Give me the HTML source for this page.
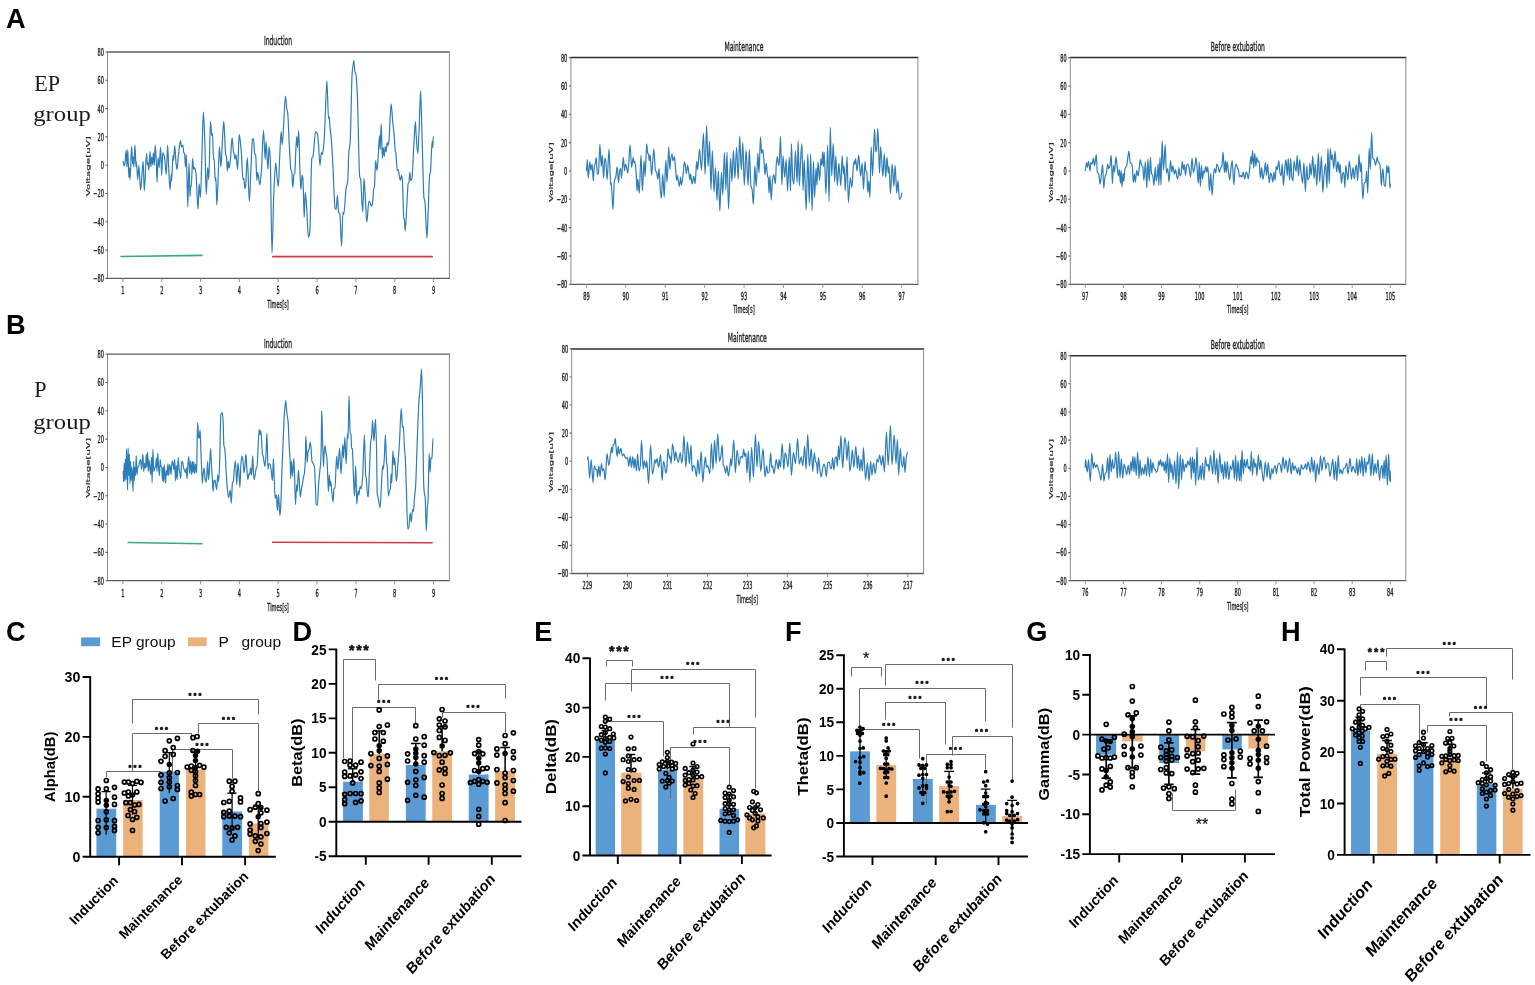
<!DOCTYPE html>
<html lang="en">
<head>
<meta charset="utf-8">
<title>EEG waveforms and spectral power: EP group vs P group</title>
<style>
html,body{margin:0;padding:0;background:#fff;}
body{width:1535px;height:985px;overflow:hidden;font-family:"Liberation Sans",Arial,sans-serif;}
svg{display:block;}
text{white-space:pre;}
.mt{font:10.4px "DejaVu Sans","Liberation Sans",sans-serif;fill:#262626;stroke:#262626;stroke-width:0.42px;}
.ti{font-size:12.5px;}
.vl{font-size:10.25px;stroke-width:0.3px;}
.tk{font:bold 14.2px "Liberation Sans",Arial,sans-serif;fill:#000;}
.xl{font-size:13.8px;}
.yl{font:bold 14.3px "Liberation Sans",Arial,sans-serif;fill:#000;}
.st{font-family:"Liberation Sans",Arial,sans-serif;fill:#111;stroke:#111;stroke-width:0.55px;stroke-linejoin:round;text-anchor:middle;}
.sr{stroke-width:0.25px;}
.lg{font:15.5px "Liberation Sans",Arial,sans-serif;fill:#111;}
</style>
</head>
<body>
<svg width="1535" height="985" viewBox="0 0 1535 985">
<rect x="0" y="0" width="1535" height="985" fill="#fff"/>
<text transform="translate(5.95,27.75)" font-family="'Liberation Sans', Arial, sans-serif" font-size="27.2" font-weight="bold" text-anchor="start" fill="#000" >A</text>
<text transform="translate(6.07,334.45)" font-family="'Liberation Sans', Arial, sans-serif" font-size="27.2" font-weight="bold" text-anchor="start" fill="#000" >B</text>
<text transform="translate(6.00,641.36)" font-family="'Liberation Sans', Arial, sans-serif" font-size="27.2" font-weight="bold" text-anchor="start" fill="#000" >C</text>
<text transform="translate(292.47,641.45)" font-family="'Liberation Sans', Arial, sans-serif" font-size="27.2" font-weight="bold" text-anchor="start" fill="#000" >D</text>
<text transform="translate(534.24,640.65)" font-family="'Liberation Sans', Arial, sans-serif" font-size="27.2" font-weight="bold" text-anchor="start" fill="#000" >E</text>
<text transform="translate(785.00,640.55)" font-family="'Liberation Sans', Arial, sans-serif" font-size="27.2" font-weight="bold" text-anchor="start" fill="#000" >F</text>
<text transform="translate(1026.14,640.63)" font-family="'Liberation Sans', Arial, sans-serif" font-size="27.2" font-weight="bold" text-anchor="start" fill="#000" >G</text>
<text transform="translate(1281.06,640.65)" font-family="'Liberation Sans', Arial, sans-serif" font-size="27.2" font-weight="bold" text-anchor="start" fill="#000" >H</text>
<text transform="translate(34.20,91.30) scale(0.96,1.0)" font-family="'Liberation Serif', 'Times New Roman', serif" font-size="23" font-weight="normal" text-anchor="start" fill="#1a1a1a" >EP</text>
<text transform="translate(33.30,121.00) scale(1.12,1.0)" font-family="'Liberation Serif', 'Times New Roman', serif" font-size="22" font-weight="normal" text-anchor="start" fill="#1a1a1a" >group</text>
<text transform="translate(34.20,397.10) scale(0.96,1.0)" font-family="'Liberation Serif', 'Times New Roman', serif" font-size="23" font-weight="normal" text-anchor="start" fill="#1a1a1a" >P</text>
<text transform="translate(33.30,429.00) scale(1.12,1.0)" font-family="'Liberation Serif', 'Times New Roman', serif" font-size="22" font-weight="normal" text-anchor="start" fill="#1a1a1a" >group</text>
<g id="trace-EP-induction">
<path d="M107.00,52.00H449.90M107.00,278.40H449.90" fill="none" stroke="#5e5e5e" stroke-width="1.3"/>
<path d="M107.50,52.00V278.40M449.40,52.00V278.40" fill="none" stroke="#8a8a8a" stroke-width="1"/>
<path d="M105.50,52.00H107.50M105.50,80.30H107.50M105.50,108.60H107.50M105.50,136.90H107.50M105.50,165.20H107.50M105.50,193.50H107.50M105.50,221.80H107.50M105.50,250.10H107.50M105.50,278.40H107.50" fill="none" stroke="#5e5e5e" stroke-width="1.1"/>
<path d="M122.90,278.40V282.00M161.73,278.40V282.00M200.55,278.40V282.00M239.38,278.40V282.00M278.20,278.40V282.00M317.02,278.40V282.00M355.85,278.40V282.00M394.68,278.40V282.00M433.50,278.40V282.00" fill="none" stroke="#8a8a8a" stroke-width="0.9"/>
<g class="mt" text-anchor="end">
<text transform="translate(103.90,55.90) scale(0.485,1)">80</text>
<text transform="translate(103.90,84.20) scale(0.485,1)">60</text>
<text transform="translate(103.90,112.50) scale(0.485,1)">40</text>
<text transform="translate(103.90,140.80) scale(0.485,1)">20</text>
<text transform="translate(103.90,169.10) scale(0.485,1)">0</text>
<text transform="translate(103.90,197.40) scale(0.485,1)">−20</text>
<text transform="translate(103.90,225.70) scale(0.485,1)">−40</text>
<text transform="translate(103.90,254.00) scale(0.485,1)">−60</text>
<text transform="translate(103.90,282.30) scale(0.485,1)">−80</text>
</g>
<g class="mt" text-anchor="middle">
<text transform="translate(122.90,293.70) scale(0.485,1)">1</text>
<text transform="translate(161.73,293.70) scale(0.485,1)">2</text>
<text transform="translate(200.55,293.70) scale(0.485,1)">3</text>
<text transform="translate(239.38,293.70) scale(0.485,1)">4</text>
<text transform="translate(278.20,293.70) scale(0.485,1)">5</text>
<text transform="translate(317.02,293.70) scale(0.485,1)">6</text>
<text transform="translate(355.85,293.70) scale(0.485,1)">7</text>
<text transform="translate(394.68,293.70) scale(0.485,1)">8</text>
<text transform="translate(433.50,293.70) scale(0.485,1)">9</text>
<text transform="translate(278.00,307.60) scale(0.485,1)">Times[s]</text>
<text class="vl" transform="translate(89.50,166.30) scale(0.47,1) rotate(-90)">Voltage[uV]</text>
<text class="ti" transform="translate(278.00,45.40) scale(0.485,1)">Induction</text>
</g>
<line x1="121.00" y1="256.50" x2="202.00" y2="255.40" stroke="#3aa888" stroke-width="1.6" stroke-linecap="round"/>
<line x1="272.60" y1="256.60" x2="432.20" y2="256.60" stroke="#cf3a4e" stroke-width="1.6" stroke-linecap="round"/>
<path d="M123.1,161.4C123.4,161.4 123.7,166.1 124.0,166.1C124.3,166.1 124.6,164.8 124.9,163.2C125.3,161.5 125.7,150.0 126.1,150.0C126.4,150.0 126.7,166.8 126.9,166.8C127.2,166.8 127.5,149.5 127.8,149.5C128.1,149.5 128.5,177.5 128.8,177.5C129.0,177.5 129.3,167.5 129.5,167.5C129.7,167.5 129.9,179.6 130.1,179.6C130.6,179.6 131.1,146.2 131.6,146.2C132.0,146.2 132.3,164.0 132.6,164.0C132.8,164.0 133.0,156.9 133.2,156.9C133.4,156.9 133.7,166.8 133.9,166.8C134.2,166.8 134.6,144.8 134.9,144.8C135.3,144.8 135.7,166.8 136.0,166.8C136.1,166.8 136.2,161.4 136.3,161.4C136.8,161.4 137.3,179.6 137.7,179.6C138.1,179.6 138.5,165.7 138.9,165.7C139.4,165.7 140.0,190.3 140.6,190.3C141.1,190.3 141.5,179.2 142.0,173.9C142.4,169.7 142.8,161.4 143.1,161.4C143.5,161.4 143.9,191.0 144.3,191.0C145.0,191.0 145.8,153.3 146.6,153.3C146.8,153.3 147.1,164.7 147.4,164.7C147.6,164.7 147.8,162.5 148.0,162.5C148.3,162.5 148.5,170.4 148.8,170.4C149.2,170.4 149.6,151.4 150.0,151.4C150.2,151.4 150.5,166.8 150.8,166.8C151.1,166.8 151.4,156.9 151.7,156.9C151.9,156.9 152.2,164.7 152.5,164.7C152.8,164.7 153.1,152.9 153.4,152.9C153.7,152.9 153.9,165.4 154.2,165.4C154.6,165.4 154.9,145.2 155.2,145.2C155.6,145.2 155.9,153.5 156.2,159.7C156.5,165.0 156.8,182.1 157.1,182.1C157.4,182.1 157.7,157.6 158.1,157.6C158.4,157.6 158.7,167.5 159.1,167.5C159.6,167.5 160.1,147.2 160.6,147.2C161.0,147.2 161.3,175.3 161.6,175.3C162.0,175.3 162.4,152.6 162.8,152.6C163.0,152.6 163.3,153.4 163.6,154.0C163.9,154.6 164.2,155.5 164.5,156.9C165.1,159.9 165.7,174.6 166.3,174.6C166.7,174.6 167.2,145.2 167.6,145.2C168.0,145.2 168.3,161.3 168.7,168.2C169.1,176.0 169.6,189.8 170.0,189.8C170.4,189.8 170.9,173.9 171.3,173.9C171.4,173.9 171.5,181.0 171.6,181.0C172.0,181.0 172.5,155.4 173.0,155.4C173.2,155.4 173.4,160.4 173.6,160.4C173.9,160.4 174.3,145.5 174.7,145.5C175.2,145.5 175.6,159.8 176.1,164.0C176.4,166.4 176.7,169.6 177.0,169.6C177.4,169.6 177.9,159.3 178.4,155.4C179.1,149.6 179.8,140.5 180.5,140.5C180.8,140.5 181.2,146.9 181.5,146.9C181.9,146.9 182.4,145.2 182.8,145.2C183.1,145.2 183.5,151.7 183.8,152.6C184.1,153.4 184.4,153.2 184.6,154.0C184.9,154.9 185.2,166.8 185.5,166.8C185.8,166.8 186.1,154.7 186.3,154.7C186.8,154.7 187.3,206.6 187.8,206.6C188.2,206.6 188.6,163.2 189.0,163.2C189.4,163.2 189.7,196.6 190.0,196.6C190.3,196.6 190.5,185.3 190.8,185.3C190.9,185.3 191.1,186.7 191.3,186.7C191.7,186.7 192.2,158.3 192.6,158.3C192.9,158.3 193.3,169.6 193.6,169.6C193.9,169.6 194.3,167.5 194.6,167.5C195.1,167.5 195.5,170.5 196.0,173.9C196.7,178.6 197.3,209.4 198.0,209.4C198.4,209.4 198.8,183.9 199.1,183.9C199.6,183.9 200.0,197.4 200.4,197.4C200.9,197.4 201.5,167.3 202.0,152.6C202.5,139.2 202.9,112.1 203.4,112.1C203.9,112.1 204.4,128.8 204.8,141.2C205.3,153.6 205.8,194.1 206.2,194.1C206.7,194.1 207.2,167.5 207.7,167.5C208.0,167.5 208.4,179.6 208.8,179.6C209.4,179.6 209.9,121.3 210.5,121.3C210.9,121.3 211.3,135.5 211.6,135.5C211.9,135.5 212.2,133.4 212.5,133.4C212.8,133.4 213.2,159.7 213.5,159.7C213.7,159.7 213.9,158.3 214.1,158.3C214.5,158.3 214.9,181.0 215.3,181.0C215.5,181.0 215.7,177.5 215.9,177.5C216.2,177.5 216.5,204.9 216.8,204.9C217.1,204.9 217.5,192.9 217.9,185.3C218.4,174.8 218.9,146.9 219.5,146.9C219.9,146.9 220.4,166.8 220.9,166.8C221.1,166.8 221.4,160.4 221.6,156.9C222.3,146.1 223.0,121.3 223.7,121.3C224.0,121.3 224.2,126.9 224.4,130.6C224.9,137.1 225.3,153.2 225.7,154.7C226.0,155.6 226.2,155.3 226.4,156.1C226.7,157.2 227.0,171.1 227.3,171.1C227.6,171.1 227.9,161.1 228.3,161.1C228.6,161.1 228.8,168.2 229.1,168.2C229.5,168.2 230.0,163.4 230.4,159.7C231.0,154.7 231.5,137.7 232.1,137.7C232.5,137.7 233.0,148.7 233.4,151.2C233.6,152.5 233.9,152.9 234.1,154.0C234.4,155.4 234.7,159.5 235.0,159.5C235.3,159.5 235.7,154.5 236.0,154.5C236.5,154.5 237.1,169.5 237.6,169.5C238.1,169.5 238.7,134.6 239.2,134.6C239.5,134.6 239.8,138.1 240.2,140.6C240.6,143.7 241.0,148.4 241.4,153.5C241.9,160.4 242.4,179.4 243.0,179.4C243.2,179.4 243.5,178.4 243.8,178.4C244.1,178.4 244.6,188.4 244.9,188.4C245.1,188.4 245.3,188.0 245.5,187.4C246.1,185.6 246.7,157.5 247.3,157.5C248.0,157.5 248.7,201.3 249.3,201.3C249.9,201.3 250.4,179.6 250.9,169.5C251.4,159.3 252.0,140.6 252.5,139.6C252.8,139.0 253.2,138.6 253.5,138.6C253.9,138.6 254.3,152.2 254.7,153.5C255.0,154.7 255.4,154.3 255.7,155.5C256.1,157.0 256.5,180.4 256.9,180.4C257.1,180.4 257.4,172.4 257.7,172.4C258.4,172.4 259.1,185.0 259.9,185.0C260.4,185.0 260.9,176.3 261.5,169.5C262.1,160.9 262.8,130.3 263.5,130.3C264.0,130.3 264.7,159.5 265.2,159.5C265.5,159.5 265.8,141.6 266.0,141.6C266.7,141.6 267.4,169.5 268.0,169.5C268.4,169.5 268.7,146.6 269.0,146.6C269.4,146.6 269.8,151.4 270.2,157.5C270.8,166.8 271.4,253.0 272.0,253.0C272.6,253.0 273.2,205.7 273.8,193.3C274.5,179.6 275.1,162.9 275.8,162.9C276.1,162.9 276.5,171.4 276.8,174.4C277.3,179.2 277.8,186.4 278.4,186.4C278.8,186.4 279.2,167.3 279.6,159.5C280.1,149.2 280.6,131.7 281.2,131.7C281.5,131.7 281.8,144.6 282.2,144.6C283.3,144.6 284.4,96.2 285.5,96.2C285.9,96.2 286.3,106.5 286.7,108.8C287.1,110.7 287.4,110.6 287.7,112.8C288.2,115.8 288.7,133.4 289.1,141.6C289.7,152.1 290.3,166.9 290.9,169.5C291.2,170.6 291.4,170.3 291.7,171.5C292.1,173.1 292.5,187.4 292.9,187.4C293.2,187.4 293.6,175.2 293.9,174.4C294.2,173.8 294.4,174.1 294.7,173.4C295.3,171.9 296.0,136.6 296.7,136.6C296.9,136.6 297.2,147.6 297.5,147.6C297.9,147.6 298.3,130.7 298.7,130.7C299.1,130.7 299.5,159.7 299.9,169.5C300.2,177.6 300.5,189.4 300.9,189.4C301.3,189.4 301.7,175.0 302.1,175.0C302.3,175.0 302.6,176.0 302.8,177.4C303.3,179.9 303.8,217.2 304.2,217.2C304.6,217.2 304.9,192.3 305.2,192.3C305.6,192.3 306.0,198.6 306.4,203.3C307.1,211.1 307.8,237.1 308.4,237.1C308.9,237.1 309.4,235.1 309.8,232.1C310.5,227.9 311.1,160.6 311.8,158.5C312.2,157.3 312.6,157.6 313.0,156.5C313.8,154.1 314.7,131.7 315.6,131.7C315.9,131.7 316.2,132.2 316.6,132.7C316.9,133.1 317.2,133.5 317.6,134.6C317.9,135.8 318.2,141.5 318.6,145.6C319.0,151.3 319.5,165.5 320.0,165.5C320.4,165.5 320.9,152.5 321.4,152.5C321.6,152.5 321.9,154.5 322.1,154.5C322.5,154.5 322.8,152.5 323.1,150.6C323.6,147.8 324.1,140.9 324.5,133.6C325.3,121.3 326.1,80.9 326.9,80.9C327.4,80.9 328.0,118.7 328.5,118.7C328.8,118.7 329.0,116.7 329.3,116.7C329.5,116.7 329.7,123.3 329.9,125.7C330.4,132.0 331.0,134.9 331.5,141.6C332.0,148.3 332.6,159.8 333.1,169.5C333.7,181.6 334.4,207.1 335.1,208.3C335.4,208.9 335.8,209.3 336.2,209.3C336.6,209.3 337.0,195.3 337.4,195.3C337.8,195.3 338.2,211.4 338.6,212.2C339.0,213.1 339.4,212.8 339.8,213.6C340.4,214.9 341.0,246.1 341.6,246.1C342.0,246.1 342.5,212.2 343.0,212.2C343.2,212.2 343.5,214.2 343.8,214.2C344.5,214.2 345.4,193.3 346.1,188.4C346.7,185.1 347.2,185.3 347.7,181.4C348.1,178.5 348.5,156.1 348.9,151.6C349.3,147.0 349.7,147.5 350.1,142.6C350.8,134.5 351.5,82.0 352.1,74.0C352.7,66.7 353.3,60.6 353.9,60.6C354.2,60.6 354.6,71.2 354.9,72.0C355.2,72.6 355.4,72.4 355.7,73.0C356.2,74.2 356.8,83.9 357.3,93.9C358.1,108.8 358.9,172.1 359.7,176.4C360.0,178.2 360.3,177.7 360.7,179.4C361.3,182.7 362.0,212.2 362.7,212.2C363.1,212.2 363.6,178.4 364.0,178.4C364.5,178.4 365.0,192.1 365.4,199.3C365.9,206.5 366.4,222.2 366.8,222.2C367.5,222.2 368.2,201.3 368.8,201.3C369.2,201.3 369.6,201.8 370.0,202.3C370.5,202.9 371.0,206.3 371.4,206.3C371.7,206.3 372.1,205.4 372.4,204.3C372.9,202.7 373.3,189.7 373.8,188.4C374.0,187.8 374.2,188.0 374.4,187.4C374.8,186.1 375.2,160.5 375.6,160.5C376.0,160.5 376.5,170.5 377.0,170.5C377.3,170.5 377.6,163.7 378.0,159.5C378.5,152.8 379.0,135.6 379.6,135.6C379.8,135.6 380.0,149.6 380.2,149.6C380.5,149.6 380.8,123.7 381.2,123.7C381.6,123.7 382.0,158.5 382.4,158.5C382.6,158.5 382.9,147.6 383.1,147.6C383.5,147.6 383.9,156.5 384.3,156.5C384.6,156.5 384.9,146.6 385.1,146.6C385.5,146.6 385.8,151.6 386.1,151.6C386.5,151.6 386.8,142.6 387.1,142.6C387.4,142.6 387.7,145.6 387.9,145.6C388.3,145.6 388.6,143.5 388.9,141.2C389.6,136.2 390.4,103.8 391.1,103.8C391.6,103.8 392.2,116.4 392.7,121.7C393.2,126.4 393.6,129.5 394.1,134.6C394.5,139.1 394.9,149.4 395.3,151.6C395.5,152.6 395.7,152.5 395.9,153.5C396.3,155.9 396.8,170.5 397.3,170.5C397.6,170.5 397.9,169.5 398.3,169.5C398.5,169.5 398.8,173.0 399.1,174.4C399.5,176.6 399.9,180.4 400.3,180.4C400.7,180.4 401.1,175.4 401.5,175.4C401.7,175.4 402.0,177.2 402.3,179.4C402.8,183.8 403.3,215.1 403.8,218.2C404.0,219.4 404.2,219.1 404.4,220.2C404.7,221.6 405.0,231.1 405.2,231.1C405.7,231.1 406.2,216.6 406.6,209.3C407.2,200.9 407.7,184.6 408.2,183.4C408.5,182.8 408.8,183.0 409.0,182.4C409.3,181.8 409.5,172.4 409.8,172.4C410.1,172.4 410.5,180.4 410.8,180.4C411.1,180.4 411.5,180.0 411.8,179.4C412.5,178.2 413.1,156.1 413.8,145.6C414.3,137.2 414.9,121.7 415.4,121.7C415.6,121.7 415.9,132.0 416.2,135.6C416.7,142.8 417.2,153.5 417.8,153.5C418.2,153.5 418.7,137.7 419.2,127.7C419.6,117.7 420.1,90.9 420.6,90.9C421.0,90.9 421.5,117.4 421.9,131.7C422.6,152.0 423.3,192.6 423.9,197.3C424.3,199.7 424.6,199.1 424.9,201.3C425.6,205.6 426.3,238.1 426.9,238.1C427.3,238.1 427.7,222.1 428.1,213.2C428.6,201.4 429.2,177.9 429.7,174.4C430.0,172.7 430.2,173.1 430.5,171.5C431.0,168.2 431.6,141.6 432.1,141.6C432.3,141.6 432.5,147.6 432.7,147.6C432.9,147.6 433.1,136.6 433.3,136.6" fill="none" stroke="#2d7db7" stroke-width="1.2" stroke-linejoin="round" stroke-linecap="round"/>
</g>
<g id="trace-EP-maintenance">
<path d="M570.40,57.60H918.40" fill="none" stroke="#2e2e2e" stroke-width="1.5"/>
<path d="M570.40,284.30H918.40" fill="none" stroke="#5e5e5e" stroke-width="1.3"/>
<path d="M570.90,57.60V284.30M917.90,57.60V284.30" fill="none" stroke="#8a8a8a" stroke-width="1"/>
<path d="M568.90,57.60H570.90M568.90,85.94H570.90M568.90,114.28H570.90M568.90,142.61H570.90M568.90,170.95H570.90M568.90,199.29H570.90M568.90,227.62H570.90M568.90,255.96H570.90M568.90,284.30H570.90" fill="none" stroke="#5e5e5e" stroke-width="1.1"/>
<path d="M586.40,284.30V287.90M625.81,284.30V287.90M665.23,284.30V287.90M704.64,284.30V287.90M744.05,284.30V287.90M783.46,284.30V287.90M822.88,284.30V287.90M862.29,284.30V287.90M901.70,284.30V287.90" fill="none" stroke="#8a8a8a" stroke-width="0.9"/>
<g class="mt" text-anchor="end">
<text transform="translate(567.30,61.50) scale(0.485,1)">80</text>
<text transform="translate(567.30,89.84) scale(0.485,1)">60</text>
<text transform="translate(567.30,118.18) scale(0.485,1)">40</text>
<text transform="translate(567.30,146.51) scale(0.485,1)">20</text>
<text transform="translate(567.30,174.85) scale(0.485,1)">0</text>
<text transform="translate(567.30,203.19) scale(0.485,1)">−20</text>
<text transform="translate(567.30,231.53) scale(0.485,1)">−40</text>
<text transform="translate(567.30,259.86) scale(0.485,1)">−60</text>
<text transform="translate(567.30,288.20) scale(0.485,1)">−80</text>
</g>
<g class="mt" text-anchor="middle">
<text transform="translate(586.40,299.70) scale(0.485,1)">89</text>
<text transform="translate(625.81,299.70) scale(0.485,1)">90</text>
<text transform="translate(665.23,299.70) scale(0.485,1)">91</text>
<text transform="translate(704.64,299.70) scale(0.485,1)">92</text>
<text transform="translate(744.05,299.70) scale(0.485,1)">93</text>
<text transform="translate(783.46,299.70) scale(0.485,1)">94</text>
<text transform="translate(822.88,299.70) scale(0.485,1)">95</text>
<text transform="translate(862.29,299.70) scale(0.485,1)">96</text>
<text transform="translate(901.70,299.70) scale(0.485,1)">97</text>
<text transform="translate(743.90,313.40) scale(0.485,1)">Times[s]</text>
<text class="vl" transform="translate(553.00,172.10) scale(0.47,1) rotate(-90)">Voltage[uV]</text>
<text class="ti" transform="translate(743.90,51.10) scale(0.485,1)">Maintenance</text>
</g>
<path d="M586.4,170.8C586.7,170.8 587.0,159.7 587.3,159.7C587.6,159.7 587.9,178.1 588.2,178.1C588.7,178.1 589.3,161.9 589.8,161.9C590.2,161.9 590.6,170.3 590.9,170.3C591.3,170.3 591.7,164.1 592.1,164.1C592.5,164.1 592.9,180.9 593.3,180.9C593.6,180.9 594.0,167.8 594.3,166.4C594.5,165.4 594.7,165.4 595.0,164.7C595.4,163.2 595.9,157.7 596.3,157.7C596.6,157.7 597.0,174.2 597.3,174.2C597.7,174.2 598.1,173.8 598.5,173.1C599.0,172.3 599.4,144.3 599.9,144.3C600.3,144.3 600.8,166.4 601.2,166.4C601.6,166.4 602.0,155.2 602.3,155.2C602.7,155.2 603.2,178.1 603.6,178.1C604.0,178.1 604.4,158.0 604.8,158.0C605.2,158.0 605.5,159.8 605.9,161.9C606.3,164.2 606.7,179.8 607.1,179.8C607.8,179.8 608.4,149.1 609.0,149.1C609.6,149.1 610.2,185.4 610.7,185.4C610.9,185.4 611.1,182.6 611.3,182.6C611.8,182.6 612.4,209.4 612.9,209.4C613.4,209.4 613.9,183.0 614.4,180.9C614.8,178.9 615.3,179.2 615.7,177.5C616.2,175.8 616.7,166.9 617.2,166.9C617.6,166.9 618.1,182.6 618.5,182.6C618.9,182.6 619.3,170.6 619.8,169.7C620.0,169.1 620.4,168.6 620.6,168.6C620.9,168.6 621.2,178.1 621.5,178.1C622.1,178.1 622.7,157.4 623.3,157.4C623.7,157.4 624.2,170.8 624.6,170.8C624.9,170.8 625.2,164.1 625.6,164.1C625.9,164.1 626.3,166.1 626.7,167.5C627.0,168.9 627.4,173.1 627.8,173.1C628.6,173.1 629.4,144.9 630.1,144.9C630.6,144.9 631.1,167.5 631.6,167.5C632.1,167.5 632.6,157.4 633.2,157.4C633.4,157.4 633.8,163.0 634.0,163.0C634.3,163.0 634.6,161.3 634.9,161.3C635.4,161.3 635.9,170.2 636.4,177.5C636.6,180.3 636.8,190.9 637.0,190.9C637.2,190.9 637.5,179.2 637.8,179.2C638.3,179.2 638.8,193.2 639.3,193.2C639.8,193.2 640.4,155.2 641.0,155.2C641.5,155.2 641.9,190.9 642.4,190.9C643.0,190.9 643.5,160.8 644.1,160.8C644.4,160.8 644.8,176.4 645.1,176.4C645.6,176.4 646.2,143.8 646.7,143.8C647.0,143.8 647.3,151.8 647.7,153.0C647.9,153.9 648.2,153.8 648.5,154.6C648.7,155.6 649.1,160.8 649.3,160.8C649.6,160.8 649.9,154.6 650.1,154.6C650.6,154.6 651.1,175.3 651.6,175.3C652.3,175.3 653.1,149.1 653.8,149.1C654.4,149.1 654.9,169.8 655.5,170.8C655.9,171.5 656.2,171.3 656.6,172.0C657.0,172.6 657.4,179.2 657.8,179.2C658.2,179.2 658.7,168.6 659.1,168.6C659.4,168.6 659.8,184.7 660.2,188.7C660.6,193.1 661.0,198.2 661.4,198.2C661.8,198.2 662.3,174.2 662.7,174.2C663.2,174.2 663.7,197.1 664.2,197.1C664.7,197.1 665.2,160.2 665.8,160.2C666.2,160.2 666.6,182.0 667.0,182.0C667.6,182.0 668.2,146.8 668.8,146.8C669.1,146.8 669.5,169.7 669.9,169.7C670.2,169.7 670.4,160.5 670.7,159.1C671.2,156.5 671.6,154.1 672.1,154.1C672.4,154.1 672.7,160.8 673.0,160.8C673.5,160.8 674.0,156.9 674.5,156.9C674.8,156.9 675.2,165.9 675.6,169.7C676.0,173.6 676.3,180.3 676.7,180.3C676.9,180.3 677.2,175.3 677.4,175.3C677.7,175.3 678.0,179.9 678.3,181.4C678.7,183.5 679.1,186.5 679.5,186.5C679.8,186.5 680.2,177.0 680.5,177.0C680.8,177.0 681.1,184.8 681.4,184.8C681.8,184.8 682.3,180.6 682.7,177.5C683.3,173.7 683.9,161.9 684.4,161.9C684.8,161.9 685.2,164.9 685.5,166.9C685.8,168.6 686.1,173.6 686.4,173.6C686.8,173.6 687.2,165.3 687.6,165.3C688.1,165.3 688.5,170.4 688.9,173.1C689.2,175.2 689.6,179.8 689.9,179.8C690.1,179.8 690.3,174.2 690.6,174.2C691.1,174.2 691.7,184.0 692.2,184.0C692.7,184.0 693.3,176.2 693.8,176.2C694.2,176.2 694.7,183.7 695.1,183.7C695.7,183.7 696.2,161.3 696.7,161.3C697.0,161.3 697.3,169.7 697.6,169.7C698.2,169.7 698.9,149.1 699.5,149.1C700.2,149.1 700.8,170.3 701.5,170.3C702.1,170.3 702.8,133.4 703.4,133.4C704.0,133.4 704.5,174.2 705.1,174.2C705.6,174.2 706.1,125.6 706.6,125.6C707.1,125.6 707.6,166.4 708.1,166.4C708.6,166.4 709.1,141.2 709.5,141.2C710.0,141.2 710.5,189.8 711.0,189.8C711.4,189.8 711.9,150.7 712.3,150.7C712.9,150.7 713.5,192.1 714.0,192.1C714.5,192.1 715.0,167.5 715.5,167.5C716.0,167.5 716.5,200.4 717.0,200.4C717.5,200.4 717.9,170.8 718.4,170.8C718.8,170.8 719.3,211.0 719.8,211.0C720.4,211.0 720.9,172.0 721.5,172.0C721.9,172.0 722.4,194.8 722.8,194.8C723.3,194.8 723.9,152.7 724.4,152.7C724.9,152.7 725.4,189.8 725.8,189.8C726.2,189.8 726.6,152.4 727.0,152.4C727.5,152.4 728.0,208.8 728.5,208.8C729.2,208.8 729.9,158.0 730.6,158.0C731.1,158.0 731.5,181.4 731.9,181.4C732.4,181.4 732.9,150.7 733.4,150.7C733.9,150.7 734.4,178.1 734.9,178.1C735.4,178.1 736.0,147.4 736.6,147.4C737.1,147.4 737.7,179.2 738.2,179.2C738.7,179.2 739.2,136.2 739.7,136.2C740.2,136.2 740.7,169.7 741.3,169.7C741.8,169.7 742.3,142.4 742.8,142.4C743.3,142.4 743.8,185.4 744.3,185.4C744.9,185.4 745.5,150.2 746.1,150.2C746.7,150.2 747.4,185.4 748.1,185.4C748.5,185.4 748.9,149.6 749.3,149.6C749.8,149.6 750.4,184.2 751.0,186.5C751.3,187.8 751.6,187.5 752.0,188.7C752.5,190.5 752.9,204.3 753.4,204.3C753.9,204.3 754.3,165.8 754.8,165.8C755.2,165.8 755.7,186.5 756.2,186.5C756.8,186.5 757.3,153.0 757.9,153.0C758.3,153.0 758.6,173.1 759.0,173.1C759.5,173.1 760.0,137.1 760.5,137.1C760.8,137.1 761.2,153.5 761.6,153.5C761.9,153.5 762.3,149.6 762.7,149.6C763.1,149.6 763.5,155.4 763.9,159.7C764.3,163.2 764.6,174.7 764.9,174.7C765.3,174.7 765.8,163.0 766.2,163.0C766.6,163.0 767.1,174.8 767.6,176.4C767.8,177.0 768.0,176.9 768.2,177.5C768.5,178.6 768.8,193.2 769.1,193.2C769.4,193.2 769.7,175.3 770.0,175.3C770.4,175.3 770.8,200.1 771.2,200.1C771.6,200.1 772.0,183.8 772.4,180.9C772.9,177.8 773.3,174.7 773.8,174.7C774.3,174.7 774.9,183.7 775.4,183.7C775.7,183.7 776.0,168.1 776.2,165.3C776.6,160.8 777.0,156.5 777.4,156.5C777.8,156.5 778.2,165.3 778.6,165.3C778.8,165.3 779.1,163.8 779.3,161.9C779.7,159.2 780.1,136.2 780.5,136.2C780.9,136.2 781.4,184.8 781.9,184.8C782.3,184.8 782.7,155.8 783.0,155.8C783.6,155.8 784.1,177.5 784.7,177.5C785.2,177.5 785.7,159.7 786.1,159.7C786.6,159.7 787.1,190.9 787.6,190.9C788.1,190.9 788.6,157.4 789.2,157.4C789.6,157.4 790.1,190.9 790.5,190.9C790.8,190.9 791.1,143.5 791.4,143.5C791.8,143.5 792.3,174.9 792.7,178.7C793.1,181.7 793.5,184.2 793.9,184.2C794.4,184.2 794.9,151.3 795.4,151.3C796.0,151.3 796.6,182.6 797.2,182.6C797.5,182.6 797.8,140.5 798.1,140.5C798.5,140.5 799.0,185.9 799.4,185.9C799.8,185.9 800.2,165.6 800.6,159.7C801.0,152.6 801.5,143.5 801.9,143.5C802.3,143.5 802.7,190.4 803.1,190.4C803.5,190.4 803.9,159.7 804.2,159.7C804.9,159.7 805.5,210.1 806.1,210.1C806.7,210.1 807.3,154.1 807.8,154.1C808.3,154.1 808.8,202.7 809.3,202.7C809.7,202.7 810.2,153.9 810.6,153.9C811.1,153.9 811.6,210.8 812.1,210.8C812.5,210.8 813.0,161.3 813.4,161.3C813.8,161.3 814.2,197.6 814.6,197.6C815.1,197.6 815.5,168.0 816.0,168.0C816.3,168.0 816.6,185.4 817.0,185.4C817.3,185.4 817.6,161.9 817.9,161.9C818.5,161.9 819.1,180.3 819.7,180.3C820.0,180.3 820.4,158.6 820.8,158.6C821.1,158.6 821.4,165.3 821.8,165.3C822.1,165.3 822.4,151.6 822.7,151.6C822.9,151.6 823.2,166.4 823.5,166.4C823.7,166.4 824.0,152.4 824.2,152.4C824.8,152.4 825.4,193.7 825.9,193.7C826.5,193.7 827.1,145.2 827.7,145.2C828.2,145.2 828.7,201.5 829.1,201.5C829.5,201.5 829.9,127.3 830.3,127.3C830.7,127.3 831.2,175.9 831.7,175.9C832.2,175.9 832.7,143.5 833.2,143.5C833.7,143.5 834.2,181.8 834.7,181.8C835.1,181.8 835.4,155.8 835.7,155.8C836.3,155.8 836.9,185.4 837.4,185.4C837.9,185.4 838.4,163.0 838.9,163.0C839.5,163.0 840.1,185.9 840.8,185.9C841.2,185.9 841.7,155.8 842.2,155.8C842.6,155.8 843.0,174.2 843.3,174.2C843.6,174.2 843.9,165.8 844.2,165.8C844.6,165.8 844.9,190.9 845.2,190.9C845.9,190.9 846.5,156.5 847.1,156.5C847.5,156.5 847.9,202.7 848.4,202.7C849.0,202.7 849.6,177.5 850.3,177.5C850.8,177.5 851.3,187.6 851.8,187.6C852.3,187.6 852.9,170.8 853.4,166.4C853.7,163.8 854.0,160.8 854.3,160.8C854.5,160.8 854.7,164.1 854.9,164.1C855.2,164.1 855.4,158.6 855.6,158.6C856.1,158.6 856.5,170.8 857.0,170.8C857.2,170.8 857.4,167.7 857.6,165.8C858.0,162.7 858.4,155.2 858.7,155.2C859.0,155.2 859.3,161.3 859.5,164.1C859.9,168.2 860.3,176.2 860.6,176.2C861.2,176.2 861.7,163.0 862.2,163.0C862.6,163.0 863.1,189.3 863.5,189.3C864.0,189.3 864.5,161.3 865.0,161.3C865.3,161.3 865.6,169.9 865.9,170.8C866.2,171.8 866.5,171.5 866.8,172.5C867.1,173.8 867.5,192.6 867.9,192.6C868.2,192.6 868.5,180.9 868.8,180.9C869.2,180.9 869.5,197.6 869.9,197.6C870.3,197.6 870.8,146.8 871.2,146.8C871.7,146.8 872.1,175.9 872.6,175.9C873.2,175.9 873.9,129.0 874.5,129.0C874.9,129.0 875.3,151.9 875.7,151.9C876.0,151.9 876.3,150.6 876.6,149.1C877.0,146.9 877.4,128.2 877.8,128.2C878.4,128.2 879.0,173.1 879.5,173.1C879.9,173.1 880.3,146.5 880.6,146.5C881.4,146.5 882.1,176.4 882.9,176.4C883.3,176.4 883.8,153.5 884.3,153.5C884.8,153.5 885.2,177.5 885.7,177.5C886.1,177.5 886.5,157.4 887.0,157.4C887.4,157.4 887.8,173.1 888.2,173.1C888.5,173.1 888.7,166.4 889.0,166.4C889.5,166.4 890.0,193.7 890.5,193.7C891.0,193.7 891.6,164.1 892.2,164.1C892.8,164.1 893.3,186.5 893.8,186.5C894.2,186.5 894.7,165.3 895.1,165.3C895.7,165.3 896.2,193.2 896.7,193.2C897.1,193.2 897.5,180.7 897.9,180.7C898.4,180.7 898.9,199.3 899.4,199.3C899.9,199.3 900.5,198.2 901.1,197.1C901.3,196.5 901.6,193.2 901.8,193.2" fill="none" stroke="#2d7db7" stroke-width="1.2" stroke-linejoin="round" stroke-linecap="round"/>
</g>
<g id="trace-EP-before-extubation">
<path d="M1069.80,57.60H1406.30" fill="none" stroke="#2e2e2e" stroke-width="1.5"/>
<path d="M1069.80,284.30H1406.30" fill="none" stroke="#5e5e5e" stroke-width="1.3"/>
<path d="M1070.30,57.60V284.30M1405.80,57.60V284.30" fill="none" stroke="#8a8a8a" stroke-width="1"/>
<path d="M1068.30,57.60H1070.30M1068.30,85.94H1070.30M1068.30,114.28H1070.30M1068.30,142.61H1070.30M1068.30,170.95H1070.30M1068.30,199.29H1070.30M1068.30,227.62H1070.30M1068.30,255.96H1070.30M1068.30,284.30H1070.30" fill="none" stroke="#5e5e5e" stroke-width="1.1"/>
<path d="M1085.30,284.30V287.90M1123.42,284.30V287.90M1161.55,284.30V287.90M1199.67,284.30V287.90M1237.80,284.30V287.90M1275.92,284.30V287.90M1314.05,284.30V287.90M1352.17,284.30V287.90M1390.30,284.30V287.90" fill="none" stroke="#8a8a8a" stroke-width="0.9"/>
<g class="mt" text-anchor="end">
<text transform="translate(1066.70,61.50) scale(0.485,1)">80</text>
<text transform="translate(1066.70,89.84) scale(0.485,1)">60</text>
<text transform="translate(1066.70,118.18) scale(0.485,1)">40</text>
<text transform="translate(1066.70,146.51) scale(0.485,1)">20</text>
<text transform="translate(1066.70,174.85) scale(0.485,1)">0</text>
<text transform="translate(1066.70,203.19) scale(0.485,1)">−20</text>
<text transform="translate(1066.70,231.53) scale(0.485,1)">−40</text>
<text transform="translate(1066.70,259.86) scale(0.485,1)">−60</text>
<text transform="translate(1066.70,288.20) scale(0.485,1)">−80</text>
</g>
<g class="mt" text-anchor="middle">
<text transform="translate(1085.30,299.70) scale(0.485,1)">97</text>
<text transform="translate(1123.42,299.70) scale(0.485,1)">98</text>
<text transform="translate(1161.55,299.70) scale(0.485,1)">99</text>
<text transform="translate(1199.67,299.70) scale(0.485,1)">100</text>
<text transform="translate(1237.80,299.70) scale(0.485,1)">101</text>
<text transform="translate(1275.92,299.70) scale(0.485,1)">102</text>
<text transform="translate(1314.05,299.70) scale(0.485,1)">103</text>
<text transform="translate(1352.17,299.70) scale(0.485,1)">104</text>
<text transform="translate(1390.30,299.70) scale(0.485,1)">105</text>
<text transform="translate(1237.80,313.40) scale(0.485,1)">Times[s]</text>
<text class="vl" transform="translate(1052.60,172.10) scale(0.47,1) rotate(-90)">Voltage[uV]</text>
<text class="ti" transform="translate(1237.80,51.10) scale(0.485,1)">Before extubation</text>
</g>
<path d="M1085.2,170.8C1085.7,170.8 1086.1,162.5 1086.5,162.5C1086.8,162.5 1087.1,167.5 1087.4,167.5C1087.7,167.5 1088.1,161.3 1088.5,161.3C1089.0,161.3 1089.5,170.8 1090.1,170.8C1090.3,170.8 1090.6,162.5 1090.9,162.5C1091.3,162.5 1091.7,164.1 1092.1,164.1C1092.5,164.1 1093.0,158.0 1093.4,158.0C1093.8,158.0 1094.1,165.8 1094.5,165.8C1095.1,165.8 1095.7,154.6 1096.3,154.6C1096.6,154.6 1097.0,171.0 1097.3,172.0C1097.8,173.3 1098.3,173.0 1098.8,174.2C1099.2,175.3 1099.7,184.2 1100.1,184.2C1100.5,184.2 1101.0,177.6 1101.4,174.2C1101.8,171.1 1102.3,164.7 1102.7,164.7C1103.0,164.7 1103.3,188.1 1103.7,188.1C1104.1,188.1 1104.6,178.9 1105.0,177.0C1105.5,175.1 1105.9,174.9 1106.4,173.1C1106.8,171.3 1107.3,164.1 1107.7,164.1C1108.1,164.1 1108.4,168.6 1108.8,168.6C1109.2,168.6 1109.6,167.2 1109.9,165.8C1110.3,164.2 1110.8,155.4 1111.2,155.4C1111.6,155.4 1112.0,183.7 1112.4,183.7C1112.8,183.7 1113.1,165.3 1113.5,165.3C1113.9,165.3 1114.2,172.0 1114.6,172.0C1115.0,172.0 1115.4,156.9 1115.8,156.9C1116.3,156.9 1116.7,163.4 1117.1,166.4C1117.5,169.6 1118.0,175.9 1118.4,175.9C1118.7,175.9 1119.0,169.7 1119.3,169.7C1119.7,169.7 1120.1,183.1 1120.4,183.1C1120.6,183.1 1120.9,170.3 1121.1,170.3C1121.4,170.3 1121.7,187.0 1122.0,187.0C1122.4,187.0 1122.7,173.1 1123.1,173.1C1123.3,173.1 1123.6,181.4 1123.8,181.4C1124.2,181.4 1124.6,169.8 1125.0,168.6C1125.6,167.0 1126.1,167.3 1126.7,165.8C1127.0,164.9 1127.4,160.8 1127.7,158.6C1128.1,155.9 1128.5,151.0 1128.9,151.0C1129.4,151.0 1129.8,162.7 1130.3,163.0C1130.7,163.4 1131.1,163.2 1131.6,163.6C1131.9,163.8 1132.2,166.1 1132.5,168.6C1132.7,170.8 1133.0,182.6 1133.3,182.6C1133.7,182.6 1134.1,174.2 1134.5,174.2C1134.8,174.2 1135.1,182.0 1135.4,182.0C1135.8,182.0 1136.3,170.3 1136.7,170.3C1137.2,170.3 1137.6,175.9 1138.1,175.9C1138.4,175.9 1138.8,171.2 1139.2,168.6C1139.6,166.0 1139.9,159.7 1140.3,159.7C1140.7,159.7 1141.2,164.3 1141.6,165.3C1142.0,166.1 1142.5,165.9 1142.9,166.9C1143.2,167.7 1143.5,180.3 1143.9,180.3C1144.4,180.3 1144.9,161.9 1145.4,161.9C1145.9,161.9 1146.3,188.1 1146.8,188.1C1147.1,188.1 1147.5,159.1 1147.9,159.1C1148.3,159.1 1148.8,181.4 1149.2,181.4C1149.6,181.4 1150.0,157.4 1150.4,157.4C1150.7,157.4 1151.1,171.7 1151.5,173.1C1151.9,174.7 1152.4,174.4 1152.8,175.9C1153.2,177.1 1153.6,185.4 1153.9,185.4C1154.4,185.4 1154.8,166.9 1155.3,166.9C1155.6,166.9 1155.9,180.9 1156.2,180.9C1156.5,180.9 1156.9,177.9 1157.3,175.3C1157.6,173.2 1157.9,164.1 1158.2,164.1C1158.4,164.1 1158.6,185.4 1158.8,185.4C1159.2,185.4 1159.6,157.4 1160.0,157.4C1160.3,157.4 1160.6,184.8 1161.0,184.8C1161.3,184.8 1161.7,140.7 1162.1,140.7C1162.6,140.7 1163.0,170.3 1163.5,170.3C1164.1,170.3 1164.7,144.6 1165.2,144.6C1165.6,144.6 1166.0,173.1 1166.4,173.1C1166.8,173.1 1167.3,168.6 1167.7,168.6C1168.1,168.6 1168.6,182.0 1169.1,182.0C1169.6,182.0 1170.0,160.6 1170.5,160.6C1170.9,160.6 1171.4,172.0 1171.8,172.0C1172.2,172.0 1172.5,165.8 1172.9,165.8C1173.4,165.8 1173.9,174.2 1174.4,174.2C1174.8,174.2 1175.2,169.7 1175.6,169.7C1176.0,169.7 1176.3,174.4 1176.7,175.9C1177.1,177.3 1177.5,179.2 1177.8,179.2C1178.2,179.2 1178.6,167.5 1178.9,167.5C1179.3,167.5 1179.7,175.9 1180.1,175.9C1180.4,175.9 1180.7,175.1 1181.1,174.2C1181.5,173.0 1181.9,161.3 1182.3,161.3C1182.7,161.3 1183.0,169.7 1183.4,169.7C1183.7,169.7 1184.0,164.7 1184.3,164.7C1184.7,164.7 1185.2,175.3 1185.6,175.3C1186.0,175.3 1186.3,165.9 1186.6,165.3C1187.0,164.6 1187.4,164.1 1187.8,164.1C1188.1,164.1 1188.5,165.6 1188.9,166.9C1189.4,168.9 1190.0,177.0 1190.6,177.0C1191.0,177.0 1191.5,158.0 1192.0,158.0C1192.5,158.0 1192.9,172.5 1193.4,172.5C1193.8,172.5 1194.2,169.2 1194.7,166.9C1195.2,164.5 1195.7,157.7 1196.1,157.7C1196.5,157.7 1197.0,168.6 1197.4,173.1C1197.7,176.8 1198.0,183.1 1198.4,183.1C1198.6,183.1 1198.9,161.9 1199.2,161.9C1199.6,161.9 1200.0,186.5 1200.4,186.5C1200.8,186.5 1201.1,165.3 1201.5,165.3C1201.8,165.3 1202.2,179.2 1202.5,179.2C1202.9,179.2 1203.3,170.8 1203.6,170.8C1203.9,170.8 1204.2,173.1 1204.5,173.1C1204.9,173.1 1205.3,166.4 1205.6,166.4C1206.0,166.4 1206.4,172.0 1206.8,172.0C1207.0,172.0 1207.3,166.9 1207.6,166.9C1207.9,166.9 1208.2,171.9 1208.5,175.3C1208.9,179.2 1209.2,190.9 1209.5,190.9C1209.9,190.9 1210.3,173.1 1210.7,173.1C1211.1,173.1 1211.6,195.2 1212.1,195.2C1212.6,195.2 1213.0,179.1 1213.5,175.3C1213.8,172.2 1214.2,168.6 1214.6,168.6C1214.9,168.6 1215.3,173.1 1215.7,173.1C1216.1,173.1 1216.4,164.1 1216.8,164.1C1217.2,164.1 1217.7,165.2 1218.1,166.4C1218.5,167.3 1218.9,172.5 1219.3,172.5C1219.6,172.5 1220.0,169.6 1220.4,168.6C1220.9,167.2 1221.4,167.1 1221.9,165.3C1222.3,163.9 1222.7,152.1 1223.1,152.1C1223.5,152.1 1224.0,172.5 1224.4,172.5C1224.7,172.5 1225.1,160.8 1225.4,160.8C1225.7,160.8 1225.9,172.5 1226.2,172.5C1226.5,172.5 1226.8,161.9 1227.1,161.9C1227.5,161.9 1227.9,167.6 1228.3,170.3C1228.8,173.5 1229.3,179.8 1229.8,179.8C1230.1,179.8 1230.4,173.4 1230.8,170.8C1231.2,167.1 1231.7,160.6 1232.2,160.6C1232.7,160.6 1233.3,184.8 1233.8,184.8C1234.2,184.8 1234.7,169.5 1235.1,167.5C1235.5,165.7 1235.9,164.1 1236.3,164.1C1236.7,164.1 1237.0,166.6 1237.3,167.5C1237.7,168.4 1238.0,168.6 1238.4,169.7C1238.8,171.0 1239.2,177.0 1239.6,177.0C1240.0,177.0 1240.4,175.3 1240.8,175.3C1241.2,175.3 1241.6,177.0 1242.0,177.0C1242.4,177.0 1242.8,172.0 1243.2,172.0C1243.7,172.0 1244.2,178.9 1244.7,178.9C1245.2,178.9 1245.6,172.2 1246.1,172.2C1246.4,172.2 1246.8,172.9 1247.2,173.6C1247.5,174.4 1247.9,178.9 1248.3,178.9C1248.7,178.9 1249.2,173.4 1249.6,169.7C1250.0,166.3 1250.5,156.3 1250.9,156.3C1251.1,156.3 1251.4,164.1 1251.6,164.1C1252.0,164.1 1252.3,150.7 1252.6,150.7C1253.0,150.7 1253.3,168.0 1253.7,168.0C1254.0,168.0 1254.4,153.5 1254.8,153.5C1255.1,153.5 1255.5,166.4 1255.9,166.4C1256.2,166.4 1256.5,157.4 1256.8,157.4C1257.1,157.4 1257.5,161.9 1257.9,161.9C1258.3,161.9 1258.6,160.8 1259.0,160.8C1259.5,160.8 1259.9,178.1 1260.4,178.1C1260.8,178.1 1261.2,167.5 1261.7,167.5C1262.1,167.5 1262.4,179.2 1262.8,179.2C1263.3,179.2 1263.7,175.7 1264.1,173.1C1264.6,170.6 1265.0,162.5 1265.4,162.5C1265.7,162.5 1266.1,175.3 1266.5,175.3C1266.9,175.3 1267.2,164.1 1267.6,164.1C1268.2,164.1 1268.7,182.9 1269.3,182.9C1269.7,182.9 1270.2,173.1 1270.6,173.1C1270.9,173.1 1271.2,173.9 1271.5,174.7C1272.0,176.0 1272.4,182.0 1272.9,182.0C1273.2,182.0 1273.6,172.0 1274.0,172.0C1274.3,172.0 1274.7,180.3 1275.1,180.3C1275.5,180.3 1275.8,166.4 1276.2,166.4C1276.6,166.4 1277.0,169.7 1277.3,169.7C1277.8,169.7 1278.3,160.8 1278.8,160.8C1279.2,160.8 1279.6,171.4 1280.0,173.1C1280.4,174.5 1280.8,175.9 1281.1,175.9C1281.5,175.9 1281.9,164.1 1282.2,164.1C1282.6,164.1 1283.0,185.4 1283.4,185.4C1283.8,185.4 1284.3,173.8 1284.7,169.7C1285.1,165.7 1285.6,159.7 1286.0,159.7C1286.4,159.7 1286.8,175.9 1287.2,175.9C1287.5,175.9 1287.9,158.6 1288.3,158.6C1288.7,158.6 1289.2,180.3 1289.6,180.3C1290.0,180.3 1290.4,158.3 1290.7,158.3C1291.1,158.3 1291.5,175.7 1291.8,177.5C1292.2,179.4 1292.6,180.9 1293.0,180.9C1293.3,180.9 1293.7,160.8 1294.1,160.8C1294.5,160.8 1294.9,166.7 1295.3,168.6C1295.6,169.8 1295.8,171.4 1296.1,171.4C1296.5,171.4 1296.8,155.4 1297.2,155.4C1297.6,155.4 1298.1,175.9 1298.5,175.9C1298.9,175.9 1299.3,159.7 1299.7,159.7C1300.1,159.7 1300.6,169.4 1301.1,173.1C1301.6,177.0 1302.2,183.1 1302.7,183.1C1303.1,183.1 1303.5,162.5 1303.9,162.5C1304.4,162.5 1304.9,191.5 1305.4,191.5C1305.8,191.5 1306.3,165.8 1306.7,165.8C1307.1,165.8 1307.4,179.8 1307.8,179.8C1308.3,179.8 1308.7,178.9 1309.2,177.5C1309.4,176.9 1309.6,163.0 1309.8,163.0C1310.3,163.0 1310.7,175.3 1311.2,175.3C1311.7,175.3 1312.3,155.8 1312.8,155.8C1313.2,155.8 1313.6,178.7 1314.0,178.7C1314.4,178.7 1314.9,164.1 1315.3,164.1C1315.8,164.1 1316.3,185.4 1316.8,185.4C1317.3,185.4 1317.9,153.0 1318.4,153.0C1318.8,153.0 1319.2,182.0 1319.7,182.0C1320.2,182.0 1320.9,156.3 1321.4,156.3C1321.9,156.3 1322.3,192.1 1322.8,192.1C1323.2,192.1 1323.6,179.3 1324.0,175.3C1324.5,170.5 1325.0,163.9 1325.5,163.9C1326.0,163.9 1326.5,188.1 1327.0,188.1C1327.3,188.1 1327.6,148.5 1327.9,148.5C1328.4,148.5 1328.8,183.7 1329.3,183.7C1329.6,183.7 1329.9,148.5 1330.2,148.5C1330.6,148.5 1331.0,159.7 1331.5,159.7C1331.8,159.7 1332.1,154.6 1332.4,154.6C1332.8,154.6 1333.3,168.6 1333.7,168.6C1334.2,168.6 1334.6,151.0 1335.1,151.0C1335.6,151.0 1336.1,172.0 1336.6,172.0C1337.1,172.0 1337.5,161.3 1338.0,161.3C1338.4,161.3 1338.9,173.1 1339.3,173.1C1339.5,173.1 1339.8,163.6 1340.0,163.6C1340.5,163.6 1341.0,183.1 1341.5,183.1C1341.9,183.1 1342.3,173.4 1342.7,173.1C1343.0,172.7 1343.4,172.5 1343.8,172.5C1344.1,172.5 1344.5,187.6 1344.9,187.6C1345.2,187.6 1345.5,165.5 1345.8,165.5C1346.2,165.5 1346.5,170.7 1346.9,173.1C1347.3,175.4 1347.6,179.8 1348.0,179.8C1348.4,179.8 1348.8,161.3 1349.1,161.3C1349.5,161.3 1349.9,164.9 1350.3,167.5C1350.7,170.3 1351.1,179.2 1351.5,179.2C1352.0,179.2 1352.5,167.5 1353.0,167.5C1353.5,167.5 1353.9,178.9 1354.4,178.9C1354.8,178.9 1355.1,170.8 1355.5,168.6C1355.8,166.9 1356.1,164.7 1356.4,164.7C1356.8,164.7 1357.3,180.9 1357.7,180.9C1358.1,180.9 1358.6,154.3 1359.0,154.3C1359.4,154.3 1359.9,172.0 1360.3,172.0C1360.6,172.0 1360.9,162.5 1361.2,162.5C1361.7,162.5 1362.2,199.0 1362.8,199.0C1363.3,199.0 1363.8,183.5 1364.3,182.9C1364.8,182.3 1365.2,182.6 1365.7,182.0C1366.0,181.6 1366.3,170.8 1366.6,170.8C1366.9,170.8 1367.3,193.2 1367.7,193.2C1368.2,193.2 1368.7,148.3 1369.2,148.3C1369.6,148.3 1370.0,169.2 1370.4,169.2C1370.8,169.2 1371.2,132.3 1371.6,132.3C1372.0,132.3 1372.4,157.1 1372.8,158.0C1373.3,159.0 1373.8,158.8 1374.3,159.7C1374.7,160.4 1375.1,165.3 1375.5,165.3C1376.1,165.3 1376.7,157.2 1377.3,157.2C1377.6,157.2 1377.9,161.5 1378.2,161.9C1378.6,162.5 1379.1,162.4 1379.5,163.0C1379.9,163.6 1380.3,167.7 1380.6,172.0C1380.8,174.5 1381.1,185.6 1381.3,185.6C1381.8,185.6 1382.3,168.6 1382.9,168.6C1383.3,168.6 1383.8,184.5 1384.3,185.4C1384.7,186.0 1385.1,186.5 1385.4,186.5C1385.9,186.5 1386.4,165.3 1386.9,165.3C1387.2,165.3 1387.6,173.1 1388.0,173.1C1388.3,173.1 1388.6,166.4 1388.9,166.4C1389.3,166.4 1389.6,188.1 1390.0,188.1C1390.2,188.1 1390.3,184.2 1390.5,184.2" fill="none" stroke="#2d7db7" stroke-width="1.2" stroke-linejoin="round" stroke-linecap="round"/>
</g>
<g id="trace-P-induction">
<path d="M107.00,354.20H449.90M107.00,580.70H449.90" fill="none" stroke="#5e5e5e" stroke-width="1.3"/>
<path d="M107.50,354.20V580.70M449.40,354.20V580.70" fill="none" stroke="#8a8a8a" stroke-width="1"/>
<path d="M105.50,354.20H107.50M105.50,382.51H107.50M105.50,410.82H107.50M105.50,439.14H107.50M105.50,467.45H107.50M105.50,495.76H107.50M105.50,524.08H107.50M105.50,552.39H107.50M105.50,580.70H107.50" fill="none" stroke="#5e5e5e" stroke-width="1.1"/>
<path d="M122.90,580.70V584.30M161.73,580.70V584.30M200.55,580.70V584.30M239.38,580.70V584.30M278.20,580.70V584.30M317.02,580.70V584.30M355.85,580.70V584.30M394.68,580.70V584.30M433.50,580.70V584.30" fill="none" stroke="#8a8a8a" stroke-width="0.9"/>
<g class="mt" text-anchor="end">
<text transform="translate(103.90,358.10) scale(0.485,1)">80</text>
<text transform="translate(103.90,386.41) scale(0.485,1)">60</text>
<text transform="translate(103.90,414.72) scale(0.485,1)">40</text>
<text transform="translate(103.90,443.04) scale(0.485,1)">20</text>
<text transform="translate(103.90,471.35) scale(0.485,1)">0</text>
<text transform="translate(103.90,499.66) scale(0.485,1)">−20</text>
<text transform="translate(103.90,527.98) scale(0.485,1)">−40</text>
<text transform="translate(103.90,556.29) scale(0.485,1)">−60</text>
<text transform="translate(103.90,584.60) scale(0.485,1)">−80</text>
</g>
<g class="mt" text-anchor="middle">
<text transform="translate(122.90,596.70) scale(0.485,1)">1</text>
<text transform="translate(161.73,596.70) scale(0.485,1)">2</text>
<text transform="translate(200.55,596.70) scale(0.485,1)">3</text>
<text transform="translate(239.38,596.70) scale(0.485,1)">4</text>
<text transform="translate(278.20,596.70) scale(0.485,1)">5</text>
<text transform="translate(317.02,596.70) scale(0.485,1)">6</text>
<text transform="translate(355.85,596.70) scale(0.485,1)">7</text>
<text transform="translate(394.68,596.70) scale(0.485,1)">8</text>
<text transform="translate(433.50,596.70) scale(0.485,1)">9</text>
<text transform="translate(278.00,610.60) scale(0.485,1)">Times[s]</text>
<text class="vl" transform="translate(89.50,467.90) scale(0.47,1) rotate(-90)">Voltage[uV]</text>
<text class="ti" transform="translate(278.00,348.00) scale(0.485,1)">Induction</text>
</g>
<line x1="128.20" y1="542.50" x2="202.00" y2="543.80" stroke="#3aa888" stroke-width="1.6" stroke-linecap="round"/>
<line x1="272.60" y1="542.20" x2="432.20" y2="542.80" stroke="#cf3a4e" stroke-width="1.6" stroke-linecap="round"/>
<path d="M123.2,471.5C123.3,471.5 123.5,481.8 123.6,481.8C123.8,481.8 124.0,463.3 124.2,463.3C124.4,463.3 124.6,480.8 124.8,480.8C125.0,480.8 125.2,459.2 125.4,459.2C125.6,459.2 125.8,479.7 126.0,479.7C126.1,479.7 126.3,449.0 126.5,449.0C126.7,449.0 126.9,460.2 127.1,467.4C127.3,473.5 127.4,490.0 127.6,490.0C127.8,490.0 128.0,447.9 128.1,447.9C128.3,447.9 128.5,475.6 128.7,475.6C128.9,475.6 129.2,454.1 129.4,454.1C129.6,454.1 129.8,483.8 130.0,483.8C130.2,483.8 130.4,461.3 130.6,461.3C130.8,461.3 131.0,480.8 131.2,480.8C131.4,480.8 131.5,467.4 131.7,467.4C132.0,467.4 132.2,471.9 132.4,475.6C132.6,478.8 132.8,491.5 133.0,491.5C133.2,491.5 133.4,461.3 133.6,461.3C133.8,461.3 134.0,480.8 134.2,480.8C134.4,480.8 134.6,467.4 134.8,467.4C135.0,467.4 135.3,475.6 135.5,475.6C135.7,475.6 136.0,455.6 136.2,455.6C136.5,455.6 136.7,474.6 136.9,474.6C137.2,474.6 137.5,468.1 137.8,467.4C138.1,466.6 138.5,466.7 138.8,465.9C139.1,465.2 139.3,461.9 139.6,461.3C139.9,460.5 140.3,459.7 140.6,459.7C140.9,459.7 141.2,469.5 141.5,469.5C141.7,469.5 142.0,463.1 142.3,460.2C142.5,458.1 142.7,454.3 142.9,454.3C143.2,454.3 143.4,471.5 143.7,471.5C144.0,471.5 144.3,463.3 144.5,463.3C144.8,463.3 145.1,468.4 145.4,468.4C145.7,468.4 146.0,454.1 146.3,454.1C146.5,454.1 146.7,467.4 146.9,467.4C147.1,467.4 147.4,452.2 147.6,452.2C147.9,452.2 148.2,471.5 148.4,471.5C148.6,471.5 148.8,460.2 149.0,460.2C149.3,460.2 149.6,465.1 149.9,467.4C150.1,469.8 150.4,474.6 150.7,474.6C151.0,474.6 151.2,457.2 151.5,457.2C151.7,457.2 151.9,482.8 152.1,482.8C152.4,482.8 152.7,449.0 152.9,449.0C153.2,449.0 153.5,471.5 153.8,471.5C154.1,471.5 154.4,469.5 154.8,468.4C155.1,467.6 155.3,467.2 155.6,465.9C155.9,464.6 156.2,458.2 156.4,458.2C156.6,458.2 156.8,471.5 157.0,471.5C157.3,471.5 157.5,453.1 157.8,453.1C158.0,453.1 158.3,464.2 158.6,467.4C158.9,471.0 159.2,475.6 159.5,475.6C159.7,475.6 160.0,459.7 160.2,459.7C160.5,459.7 160.7,465.2 160.9,465.9C161.2,466.7 161.5,466.5 161.8,467.4C162.0,468.2 162.2,480.8 162.5,480.8C162.7,480.8 163.0,467.4 163.2,467.4C163.4,467.4 163.5,481.8 163.7,481.8C163.9,481.8 164.1,464.9 164.3,464.9C164.7,464.9 165.1,483.3 165.5,483.3C165.7,483.3 166.0,470.5 166.3,470.5C166.5,470.5 166.8,475.6 167.1,475.6C167.4,475.6 167.6,463.8 167.9,463.8C168.2,463.8 168.5,475.6 168.7,475.6C169.0,475.6 169.3,464.3 169.6,464.3C169.8,464.3 170.1,466.6 170.4,468.4C170.6,469.8 170.8,474.6 171.0,474.6C171.2,474.6 171.4,467.0 171.6,465.4C171.9,463.2 172.2,460.8 172.4,460.8C172.7,460.8 173.0,463.8 173.2,465.4C173.5,466.7 173.7,469.5 174.0,469.5C174.2,469.5 174.4,459.2 174.7,459.2C175.0,459.2 175.2,480.8 175.5,480.8C175.8,480.8 176.1,465.4 176.3,465.4C176.6,465.4 176.9,479.7 177.2,479.7C177.5,479.7 177.9,457.7 178.2,457.7C178.5,457.7 178.8,466.2 179.1,468.4C179.4,470.7 179.7,471.7 180.0,473.6C180.2,475.1 180.5,478.7 180.7,478.7C181.0,478.7 181.3,461.3 181.7,461.3C182.0,461.3 182.3,461.7 182.7,462.3C182.9,462.8 183.2,466.3 183.5,467.4C183.8,468.8 184.2,469.7 184.5,470.5C184.9,471.3 185.2,472.6 185.5,472.6C185.8,472.6 186.0,467.9 186.3,467.9C186.5,467.9 186.7,478.9 187.0,478.9C187.3,478.9 187.7,466.9 188.0,463.3C188.3,460.5 188.6,456.7 188.8,456.7C189.1,456.7 189.4,473.6 189.7,473.6C190.0,473.6 190.3,460.8 190.7,460.8C191.0,460.8 191.4,474.6 191.7,474.6C192.0,474.6 192.3,461.3 192.5,461.3C192.7,461.3 192.9,472.6 193.1,472.6C193.4,472.6 193.6,461.8 193.9,461.8C194.1,461.8 194.3,473.6 194.6,473.6C194.9,473.6 195.3,464.3 195.6,464.3C195.9,464.3 196.3,473.1 196.6,473.1C196.8,473.1 196.9,457.7 197.0,451.0C197.2,441.0 197.4,422.8 197.6,422.8C198.0,422.8 198.3,437.3 198.6,437.7C198.8,438.0 199.1,438.2 199.3,438.2C199.6,438.2 199.8,430.0 200.1,430.0C200.4,430.0 200.7,444.2 200.9,451.0C201.2,457.9 201.5,465.7 201.8,471.5C202.0,475.9 202.2,483.3 202.4,483.3C202.6,483.3 202.9,475.6 203.2,473.6C203.5,471.0 203.9,467.9 204.2,467.9C204.5,467.9 204.8,477.2 205.0,478.7C205.4,480.6 205.7,482.3 206.1,482.3C206.3,482.3 206.6,476.9 206.9,473.6C207.1,470.2 207.4,461.3 207.7,461.3C208.0,461.3 208.2,479.7 208.5,479.7C208.8,479.7 209.1,475.1 209.3,471.5C209.7,466.2 210.2,448.5 210.6,448.5C210.8,448.5 211.1,458.7 211.4,463.3C211.7,468.0 211.9,472.3 212.2,476.7C212.5,481.6 212.8,491.5 213.1,491.5C213.4,491.5 213.6,481.0 213.9,480.8C214.2,480.4 214.5,480.2 214.9,480.2C214.9,480.2 215.0,480.3 215.0,480.4C215.5,481.3 216.1,489.7 216.7,489.7C217.0,489.7 217.4,474.8 217.8,474.8C218.1,474.8 218.4,481.7 218.7,481.7C219.0,481.7 219.4,470.1 219.7,461.0C220.1,450.7 220.4,415.8 220.8,414.8C221.3,413.5 221.7,412.7 222.2,412.7C222.5,412.7 222.7,416.0 223.0,419.6C223.3,423.2 223.6,442.1 223.8,444.5C224.2,447.6 224.6,447.2 224.9,450.0C225.3,452.8 225.7,463.4 226.0,469.3C226.4,475.2 226.8,481.9 227.1,485.9C227.6,490.8 228.1,497.6 228.5,497.6C228.8,497.6 229.1,495.4 229.4,494.2C229.6,492.9 229.9,490.0 230.2,490.0C230.6,490.0 230.9,503.1 231.3,503.1C231.7,503.1 232.0,484.5 232.4,483.1C232.7,481.9 233.0,482.2 233.4,481.1C233.7,479.9 234.0,471.5 234.3,468.6C234.7,465.3 235.1,460.8 235.4,460.8C235.9,460.8 236.4,484.8 236.8,484.8C237.2,484.8 237.6,463.1 237.9,463.1C238.2,463.1 238.5,466.5 238.7,469.3C239.1,473.1 239.5,487.3 239.9,487.3C240.2,487.3 240.5,471.1 240.8,466.6C241.1,462.0 241.5,456.2 241.8,456.2C242.2,456.2 242.6,458.6 243.0,461.0C243.3,462.9 243.7,472.8 244.0,472.8C244.4,472.8 244.7,467.3 245.1,463.8C245.4,461.2 245.7,454.1 245.9,454.1C246.2,454.1 246.6,465.3 246.9,469.3C247.2,473.4 247.5,479.7 247.9,479.7C248.2,479.7 248.6,473.5 249.0,473.5C249.2,473.5 249.5,474.8 249.8,474.8C250.1,474.8 250.3,467.9 250.6,467.9C250.9,467.9 251.3,474.8 251.6,474.8C252.0,474.8 252.3,455.5 252.7,455.5C253.1,455.5 253.5,479.7 253.9,479.7C254.3,479.7 254.7,477.8 255.0,476.2C255.5,474.3 256.0,467.2 256.4,467.2C256.6,467.2 256.8,467.9 257.0,467.9C257.3,467.9 257.7,453.6 258.1,447.2C258.4,440.9 258.8,429.3 259.2,429.3C259.5,429.3 259.7,434.8 260.0,434.8C260.3,434.8 260.6,430.7 260.8,430.7C261.4,430.7 261.9,451.2 262.5,454.1C262.8,455.6 263.0,455.7 263.3,456.9C263.9,459.2 264.4,466.6 265.0,466.6C265.3,466.6 265.7,458.7 266.1,452.7C266.4,448.3 266.6,433.4 266.9,433.4C267.3,433.4 267.7,469.3 268.0,469.3C268.3,469.3 268.6,463.8 268.8,463.8C269.2,463.8 269.6,463.8 269.9,463.8C270.3,463.8 270.7,467.1 271.1,469.3C271.5,472.1 272.0,480.4 272.4,480.4C272.8,480.4 273.1,458.3 273.4,458.3C273.7,458.3 274.0,476.3 274.4,483.1C274.6,489.0 274.9,498.3 275.2,498.3C275.6,498.3 276.0,494.9 276.4,494.9C276.8,494.9 277.1,510.7 277.4,510.7C277.8,510.7 278.1,494.9 278.5,494.9C279.0,494.9 279.4,515.6 279.9,515.6C280.3,515.6 280.6,507.9 281.0,501.1C281.3,495.1 281.6,477.9 282.0,469.3C282.3,460.7 282.6,454.8 282.9,447.2C283.3,438.5 283.7,425.4 284.0,419.6C284.6,411.0 285.1,400.6 285.7,400.6C286.1,400.6 286.4,409.6 286.8,412.7C287.2,416.6 287.7,417.5 288.2,422.4C288.5,426.3 288.9,440.9 289.3,447.2C289.6,452.8 289.9,454.2 290.2,461.0C290.4,463.9 290.5,478.3 290.7,478.3C290.9,478.3 291.2,461.0 291.5,461.0C291.9,461.0 292.2,476.2 292.6,476.2C293.0,476.2 293.4,458.3 293.8,458.3C294.1,458.3 294.4,470.2 294.7,477.6C294.9,485.0 295.2,504.5 295.5,504.5C295.9,504.5 296.3,484.5 296.7,484.5C296.9,484.5 297.1,491.4 297.3,491.4C297.7,491.4 298.0,470.0 298.4,470.0C298.7,470.0 298.9,476.6 299.2,480.4C299.6,485.3 300.0,496.9 300.3,496.9C300.7,496.9 301.1,490.7 301.4,488.6C301.8,486.6 302.2,485.8 302.5,483.8C302.8,482.3 303.1,479.1 303.4,477.6C303.7,475.6 304.1,475.2 304.5,472.8C304.7,470.9 305.0,466.9 305.3,461.0C305.5,457.1 305.7,436.2 305.8,436.2C306.3,436.2 306.8,462.4 307.2,462.4C307.5,462.4 307.7,454.0 307.9,452.7C308.3,450.5 308.7,450.4 309.2,448.6C309.5,447.0 309.9,442.0 310.3,442.0C310.6,442.0 310.9,446.5 311.2,450.0C311.5,452.5 311.7,460.2 311.9,461.0C312.4,462.7 312.8,462.8 313.3,463.8C313.7,464.6 314.0,465.0 314.4,466.6C314.7,467.8 315.0,476.1 315.2,481.7C315.6,488.3 315.9,504.2 316.2,504.5C316.6,505.0 317.0,505.2 317.4,505.2C317.8,505.2 318.2,491.2 318.5,485.9C318.9,480.6 319.3,475.8 319.7,472.1C320.0,468.8 320.3,468.0 320.6,463.8C320.8,461.4 321.0,454.8 321.2,447.2C321.4,439.7 321.5,410.6 321.7,410.6C322.0,410.6 322.2,426.3 322.4,433.4C322.8,444.9 323.2,466.6 323.5,466.6C323.7,466.6 323.9,456.4 324.1,454.1C324.4,450.1 324.7,445.6 325.0,445.6C325.3,445.6 325.6,451.2 325.9,452.7C326.2,454.6 326.5,454.6 326.8,456.9C327.2,459.5 327.6,472.9 327.9,480.4C328.1,484.1 328.3,491.4 328.5,491.4C328.8,491.4 329.0,474.8 329.3,474.8C329.6,474.8 329.9,485.9 330.1,485.9C330.3,485.9 330.5,481.7 330.7,481.7C331.1,481.7 331.4,488.3 331.8,491.4C332.2,494.9 332.6,501.8 333.0,501.8C333.4,501.8 333.7,489.0 334.0,488.6C334.3,488.3 334.6,488.5 334.9,488.1C335.5,487.5 336.1,456.2 336.7,456.2C337.1,456.2 337.4,469.5 337.8,469.5C338.4,469.5 339.0,448.2 339.6,448.2C340.0,448.2 340.5,473.9 341.0,473.9C341.6,473.9 342.2,444.6 342.8,444.6C343.0,444.6 343.2,457.9 343.5,457.9C343.9,457.9 344.4,437.0 344.9,437.0C345.3,437.0 345.7,464.1 346.1,464.1C346.6,464.1 347.0,433.9 347.4,433.9C347.6,433.9 347.9,438.4 348.1,438.4C348.4,438.4 348.7,396.1 349.0,396.1C349.4,396.1 349.8,432.1 350.2,433.1C350.5,433.6 350.7,433.4 350.9,433.9C351.2,434.5 351.4,447.6 351.6,448.2C351.9,448.7 352.1,448.5 352.4,449.0C352.7,449.9 353.1,468.1 353.4,475.7C353.8,483.3 354.1,496.1 354.5,496.1C354.9,496.1 355.3,465.9 355.7,465.9C356.1,465.9 356.4,504.1 356.8,504.1C357.2,504.1 357.6,490.8 358.0,490.8C358.3,490.8 358.5,495.2 358.8,495.2C359.2,495.2 359.7,486.4 360.2,486.4C360.5,486.4 360.9,489.0 361.2,489.0C361.7,489.0 362.2,481.9 362.7,475.7C363.2,467.9 363.9,434.8 364.4,434.8C364.8,434.8 365.3,473.2 365.7,475.7C365.9,476.8 366.0,476.5 366.2,477.5C366.6,479.4 366.9,490.0 367.3,492.6C367.6,494.7 367.9,497.0 368.2,497.0C368.6,497.0 369.0,480.8 369.4,472.1C369.9,462.2 370.4,442.3 370.8,440.2C371.1,439.1 371.3,439.4 371.5,438.4C371.9,436.9 372.3,420.3 372.6,420.3C373.0,420.3 373.4,441.1 373.9,441.1C374.4,441.1 374.9,419.2 375.5,419.2C375.8,419.2 376.2,434.1 376.5,447.3C376.8,456.1 377.0,491.3 377.2,493.5C377.6,496.7 377.9,497.0 378.3,498.8C378.9,501.7 379.5,507.7 380.1,507.7C380.5,507.7 381.0,492.5 381.5,484.6C381.8,478.7 382.2,465.9 382.6,465.9C382.8,465.9 383.0,469.5 383.3,469.5C383.6,469.5 384.0,463.0 384.3,457.9C384.7,452.9 385.0,434.8 385.4,434.8C385.8,434.8 386.2,459.9 386.6,463.3C386.8,464.7 387.0,464.5 387.2,465.9C387.6,469.3 388.0,496.1 388.4,496.1C388.8,496.1 389.3,490.7 389.7,489.9C389.9,489.4 390.1,489.6 390.4,489.0C390.6,488.5 390.9,473.9 391.1,473.9C391.3,473.9 391.6,482.8 391.8,482.8C392.1,482.8 392.5,450.8 392.9,450.8C393.2,450.8 393.6,465.0 393.9,465.0C394.2,465.0 394.4,457.9 394.6,457.9C395.2,457.9 395.8,481.4 396.4,481.4C396.9,481.4 397.4,471.0 397.8,465.0C398.4,457.6 399.0,449.8 399.6,440.2C400.1,431.5 400.7,408.5 401.2,408.5C401.7,408.5 402.2,427.7 402.6,427.7C402.9,427.7 403.1,426.0 403.3,426.0C403.7,426.0 404.1,442.0 404.4,447.3C404.7,451.7 405.0,452.9 405.3,457.9C405.7,464.0 406.0,479.8 406.4,489.9C406.8,503.4 407.3,529.0 407.8,529.0C408.1,529.0 408.5,528.2 408.9,527.2C409.3,525.9 409.8,513.0 410.3,513.0C410.6,513.0 411.0,521.9 411.3,521.9C411.7,521.9 412.1,509.5 412.4,509.5C412.8,509.5 413.1,511.2 413.5,511.2C413.8,511.2 414.1,502.2 414.4,498.8C414.8,494.0 415.2,492.4 415.6,486.4C416.2,477.7 416.8,451.1 417.4,436.6C418.0,422.2 418.6,404.6 419.2,397.5C419.5,393.3 419.9,392.5 420.2,388.6C420.6,384.2 421.1,369.1 421.5,369.1C421.8,369.1 422.1,385.1 422.4,397.5C422.8,417.4 423.3,477.4 423.8,486.4C424.0,490.8 424.3,493.0 424.5,494.4C424.7,495.7 425.0,495.4 425.2,497.0C425.5,499.4 425.9,530.8 426.3,530.8C426.6,530.8 427.0,512.5 427.3,507.7C427.6,504.5 427.8,504.4 428.0,500.6C428.4,494.8 428.8,453.5 429.1,453.5C429.5,453.5 429.8,472.1 430.2,472.1C430.4,472.1 430.6,457.9 430.9,457.9C431.2,457.9 431.6,458.8 431.9,458.8C432.3,458.8 432.7,438.7 433.0,438.7" fill="none" stroke="#2d7db7" stroke-width="1.2" stroke-linejoin="round" stroke-linecap="round"/>
</g>
<g id="trace-P-maintenance">
<path d="M571.20,348.90H924.10" fill="none" stroke="#2e2e2e" stroke-width="1.5"/>
<path d="M571.20,573.50H924.10" fill="none" stroke="#5e5e5e" stroke-width="1.3"/>
<path d="M571.70,348.90V573.50M923.60,348.90V573.50" fill="none" stroke="#8a8a8a" stroke-width="1"/>
<path d="M569.70,348.90H571.70M569.70,376.97H571.70M569.70,405.05H571.70M569.70,433.12H571.70M569.70,461.20H571.70M569.70,489.27H571.70M569.70,517.35H571.70M569.70,545.42H571.70M569.70,573.50H571.70" fill="none" stroke="#5e5e5e" stroke-width="1.1"/>
<path d="M587.40,573.50V577.10M627.45,573.50V577.10M667.50,573.50V577.10M707.55,573.50V577.10M747.60,573.50V577.10M787.65,573.50V577.10M827.70,573.50V577.10M867.75,573.50V577.10M907.80,573.50V577.10" fill="none" stroke="#8a8a8a" stroke-width="0.9"/>
<g class="mt" text-anchor="end">
<text transform="translate(568.10,352.80) scale(0.485,1)">80</text>
<text transform="translate(568.10,380.87) scale(0.485,1)">60</text>
<text transform="translate(568.10,408.95) scale(0.485,1)">40</text>
<text transform="translate(568.10,437.02) scale(0.485,1)">20</text>
<text transform="translate(568.10,465.10) scale(0.485,1)">0</text>
<text transform="translate(568.10,493.17) scale(0.485,1)">−20</text>
<text transform="translate(568.10,521.25) scale(0.485,1)">−40</text>
<text transform="translate(568.10,549.32) scale(0.485,1)">−60</text>
<text transform="translate(568.10,577.40) scale(0.485,1)">−80</text>
</g>
<g class="mt" text-anchor="middle">
<text transform="translate(587.40,588.70) scale(0.485,1)">229</text>
<text transform="translate(627.45,588.70) scale(0.485,1)">230</text>
<text transform="translate(667.50,588.70) scale(0.485,1)">231</text>
<text transform="translate(707.55,588.70) scale(0.485,1)">232</text>
<text transform="translate(747.60,588.70) scale(0.485,1)">233</text>
<text transform="translate(787.65,588.70) scale(0.485,1)">234</text>
<text transform="translate(827.70,588.70) scale(0.485,1)">235</text>
<text transform="translate(867.75,588.70) scale(0.485,1)">236</text>
<text transform="translate(907.80,588.70) scale(0.485,1)">237</text>
<text transform="translate(747.30,602.80) scale(0.485,1)">Times[s]</text>
<text class="vl" transform="translate(553.00,462.00) scale(0.47,1) rotate(-90)">Voltage[uV]</text>
<text class="ti" transform="translate(747.30,342.40) scale(0.485,1)">Maintenance</text>
</g>
<path d="M587.4,459.2C587.6,459.2 587.8,456.6 588.0,456.6C588.6,456.6 589.1,478.1 589.6,478.1C590.1,478.1 590.7,459.7 591.2,459.7C591.8,459.7 592.4,482.6 593.0,482.6C593.4,482.6 593.9,465.9 594.3,465.9C594.7,465.9 595.2,468.8 595.6,469.2C596.0,469.5 596.4,469.4 596.8,469.8C597.0,470.0 597.3,477.0 597.5,477.0C597.9,477.0 598.4,465.9 598.8,465.9C599.2,465.9 599.7,476.5 600.1,476.5C600.5,476.5 601.0,463.6 601.4,463.6C601.8,463.6 602.2,470.9 602.6,470.9C602.9,470.9 603.3,468.7 603.7,468.7C604.2,468.7 604.7,480.0 605.2,480.0C605.8,480.0 606.4,453.6 607.0,453.6C607.6,453.6 608.2,465.3 608.8,465.3C609.3,465.3 609.9,458.6 610.4,455.3C610.8,452.7 611.2,447.4 611.6,447.4C611.8,447.4 612.0,453.0 612.2,453.0C612.5,453.0 612.9,445.1 613.3,444.6C613.6,444.3 613.9,444.4 614.2,444.1C614.5,443.7 614.8,438.3 615.2,438.3C615.4,438.3 615.7,443.8 616.0,446.3C616.3,449.9 616.7,456.4 617.1,456.4C617.4,456.4 617.8,446.3 618.2,446.3C618.6,446.3 618.9,454.1 619.3,454.1C619.8,454.1 620.3,448.3 620.8,448.3C621.3,448.3 621.9,455.8 622.4,455.8C622.9,455.8 623.3,454.1 623.8,454.1C624.3,454.1 624.7,457.0 625.2,457.5C625.7,458.0 626.2,458.4 626.7,458.4C627.0,458.4 627.4,457.5 627.8,457.5C628.1,457.5 628.4,466.4 628.7,466.4C629.2,466.4 629.7,456.4 630.3,456.4C630.7,456.4 631.1,467.5 631.5,467.5C631.9,467.5 632.3,456.6 632.7,456.6C633.2,456.6 633.6,468.1 634.0,468.1C634.3,468.1 634.6,458.6 634.9,458.6C635.5,458.6 636.0,470.9 636.5,470.9C636.9,470.9 637.3,453.9 637.6,453.9C638.1,453.9 638.5,470.9 639.0,470.9C639.4,470.9 639.9,468.7 640.3,465.9C640.7,463.3 641.1,440.5 641.5,440.5C642.1,440.5 642.7,469.2 643.2,469.2C643.6,469.2 644.0,460.8 644.3,460.8C644.8,460.8 645.4,467.5 645.9,467.5C646.2,467.5 646.5,460.8 646.8,460.8C647.4,460.8 648.0,483.7 648.6,483.7C649.2,483.7 649.9,445.0 650.6,445.0C651.2,445.0 651.8,474.2 652.4,474.2C652.8,474.2 653.3,471.1 653.7,468.7C654.1,466.6 654.5,459.7 654.8,459.7C655.1,459.7 655.4,463.1 655.7,463.1C656.2,463.1 656.6,458.6 657.1,458.6C657.6,458.6 658.1,467.3 658.6,467.3C659.3,467.3 660.0,454.7 660.6,454.7C661.1,454.7 661.6,480.4 662.1,480.4C662.6,480.4 663.0,461.4 663.5,461.4C663.8,461.4 664.1,462.9 664.4,464.2C664.9,466.1 665.3,473.1 665.8,473.1C666.1,473.1 666.4,471.9 666.7,470.3C667.1,468.0 667.6,448.6 668.0,448.6C668.5,448.6 669.0,458.6 669.6,458.6C669.7,458.6 669.9,455.8 670.0,455.8C670.4,455.8 670.8,463.6 671.1,463.6C671.6,463.6 672.0,443.9 672.5,443.9C672.8,443.9 673.2,447.1 673.6,449.7C673.9,452.2 674.3,460.8 674.7,460.8C675.0,460.8 675.3,451.9 675.6,451.9C676.0,451.9 676.5,455.7 676.9,457.5C677.4,459.2 677.8,462.5 678.3,462.5C678.9,462.5 679.6,452.5 680.3,452.5C680.7,452.5 681.2,463.1 681.6,463.1C682.0,463.1 682.4,460.4 682.7,457.5C683.1,454.6 683.5,435.7 683.9,435.7C684.5,435.7 685.2,467.0 685.9,467.0C686.4,467.0 686.9,441.9 687.4,441.9C688.1,441.9 688.8,463.6 689.4,463.6C690.0,463.6 690.5,445.0 691.0,445.0C691.4,445.0 691.8,471.4 692.2,471.4C692.6,471.4 693.0,465.3 693.4,465.3C693.9,465.3 694.4,466.4 694.9,467.5C695.4,468.7 696.0,476.5 696.5,476.5C696.9,476.5 697.4,459.7 697.8,459.7C698.3,459.7 698.9,474.2 699.4,474.2C700.0,474.2 700.6,451.3 701.2,451.3C701.7,451.3 702.2,482.1 702.7,482.1C703.2,482.1 703.6,471.6 704.1,467.5C704.5,463.5 705.0,456.9 705.4,456.9C705.8,456.9 706.2,467.5 706.5,467.5C706.9,467.5 707.3,465.3 707.6,465.3C708.4,465.3 709.1,473.7 709.9,473.7C710.4,473.7 710.9,443.5 711.4,443.5C711.9,443.5 712.4,469.8 712.9,469.8C713.4,469.8 714.0,440.2 714.6,440.2C715.1,440.2 715.6,463.6 716.1,463.6C716.6,463.6 717.2,433.5 717.7,433.5C718.3,433.5 718.9,461.4 719.5,461.4C720.0,461.4 720.5,458.1 721.0,455.3C721.4,453.2 721.8,445.2 722.2,445.2C722.5,445.2 722.9,464.3 723.3,465.3C723.6,466.3 724.0,466.1 724.4,467.0C724.8,468.0 725.3,473.1 725.7,473.1C726.1,473.1 726.5,465.9 726.9,465.9C727.4,465.9 727.9,476.2 728.4,476.2C728.9,476.2 729.3,470.2 729.8,467.0C730.1,464.3 730.5,458.6 730.9,458.6C731.1,458.6 731.3,465.9 731.5,465.9C732.3,465.9 733.0,439.8 733.8,439.8C734.3,439.8 734.8,472.9 735.3,472.9C735.9,472.9 736.5,450.2 737.1,450.2C737.8,450.2 738.5,465.3 739.1,465.3C739.6,465.3 740.0,458.2 740.5,457.5C740.8,456.9 741.2,456.4 741.6,456.4C741.9,456.4 742.2,458.0 742.5,458.0C742.9,458.0 743.2,449.4 743.6,449.4C744.0,449.4 744.5,456.4 744.9,456.4C745.2,456.4 745.5,453.0 745.8,453.0C746.2,453.0 746.6,473.1 747.0,473.1C747.4,473.1 747.8,450.8 748.3,450.8C748.8,450.8 749.3,482.1 749.9,482.1C750.4,482.1 751.1,447.4 751.6,447.4C752.2,447.4 752.8,477.0 753.4,477.0C754.1,477.0 754.8,434.3 755.4,434.3C756.0,434.3 756.5,467.0 757.0,467.0C757.5,467.0 758.0,441.3 758.6,441.3C759.3,441.3 760.1,471.4 760.8,471.4C761.5,471.4 762.3,448.6 763.0,448.6C763.7,448.6 764.4,477.0 765.0,477.0C765.6,477.0 766.1,465.9 766.6,465.9C767.0,465.9 767.4,473.1 767.7,473.1C768.2,473.1 768.6,472.7 769.1,472.0C769.6,471.2 770.1,452.8 770.6,452.8C771.0,452.8 771.4,467.5 771.7,467.5C772.0,467.5 772.3,465.9 772.6,465.9C773.1,465.9 773.5,473.7 774.0,473.7C774.3,473.7 774.7,469.8 775.1,467.5C775.5,465.3 775.8,459.7 776.2,459.7C776.9,459.7 777.6,469.2 778.2,469.2C778.5,469.2 778.8,459.7 779.1,459.7C779.6,459.7 780.0,467.0 780.5,467.0C781.0,467.0 781.6,443.5 782.2,443.5C782.8,443.5 783.3,469.8 783.8,469.8C784.2,469.8 784.7,452.5 785.1,452.5C785.6,452.5 786.0,455.4 786.5,457.5C787.0,459.9 787.5,467.0 788.0,467.0C788.6,467.0 789.2,443.0 789.8,443.0C790.3,443.0 790.9,475.4 791.4,475.4C792.1,475.4 792.7,452.5 793.4,452.5C794.1,452.5 794.8,463.6 795.4,463.6C796.2,463.6 796.9,438.7 797.6,438.7C798.2,438.7 798.7,464.2 799.2,464.2C799.9,464.2 800.6,456.9 801.2,456.9C801.7,456.9 802.3,465.9 802.8,465.9C803.4,465.9 804.0,446.1 804.6,446.1C805.1,446.1 805.6,469.2 806.0,469.2C806.6,469.2 807.2,434.6 807.7,434.6C808.3,434.6 808.8,466.2 809.4,466.2C810.0,466.2 810.6,448.6 811.2,448.6C811.7,448.6 812.2,471.4 812.7,471.4C813.2,471.4 813.8,452.8 814.3,452.8C814.7,452.8 815.2,461.4 815.6,462.0C815.9,462.3 816.2,462.2 816.5,462.5C816.9,462.9 817.3,473.7 817.6,473.7C817.9,473.7 818.2,457.3 818.5,457.3C819.0,457.3 819.4,466.1 819.9,469.2C820.3,472.3 820.8,477.0 821.2,477.0C821.7,477.0 822.3,469.5 822.8,467.5C823.2,466.0 823.6,464.2 824.0,464.2C824.4,464.2 824.8,465.9 825.2,467.5C825.6,469.0 826.0,476.5 826.4,476.5C826.8,476.5 827.3,463.7 827.7,463.1C828.2,462.4 828.7,462.0 829.3,462.0C829.6,462.0 830.0,466.9 830.4,467.5C830.7,468.1 831.1,468.7 831.5,468.7C831.9,468.7 832.2,457.5 832.6,457.5C833.0,457.5 833.5,469.8 833.9,469.8C834.4,469.8 834.8,458.8 835.3,458.0C835.7,457.4 836.0,456.9 836.4,456.9C836.7,456.9 837.0,466.2 837.3,466.2C837.7,466.2 838.2,445.8 838.6,445.8C838.9,445.8 839.2,459.7 839.5,459.7C840.0,459.7 840.4,435.7 840.9,435.7C841.5,435.7 842.1,468.1 842.7,468.1C843.3,468.1 844.0,437.6 844.7,437.6C845.0,437.6 845.4,440.3 845.8,443.0C846.2,445.7 846.5,460.3 846.9,460.3C847.4,460.3 847.9,441.0 848.5,441.0C848.9,441.0 849.4,471.1 849.8,471.1C850.2,471.1 850.6,467.9 850.9,465.3C851.4,462.1 851.8,449.9 852.3,449.9C852.8,449.9 853.3,467.5 853.8,467.5C854.5,467.5 855.2,446.1 855.8,446.1C856.4,446.1 856.9,468.7 857.4,468.7C857.7,468.7 858.0,455.3 858.3,455.3C858.8,455.3 859.3,470.9 859.9,470.9C860.2,470.9 860.6,459.2 861.0,459.2C861.5,459.2 862.0,470.9 862.5,470.9C862.8,470.9 863.1,447.7 863.4,447.7C863.9,447.7 864.3,463.4 864.8,469.2C865.1,473.1 865.4,479.3 865.7,479.3C866.3,479.3 866.9,462.5 867.4,462.5C868.0,462.5 868.5,481.2 869.0,481.2C869.5,481.2 870.1,461.4 870.6,461.4C871.0,461.4 871.5,475.1 871.9,475.1C872.4,475.1 873.0,462.8 873.5,462.8C874.1,462.8 874.7,473.7 875.3,473.7C875.9,473.7 876.5,459.2 877.1,459.2C877.4,459.2 877.8,462.0 878.2,462.0C878.7,462.0 879.2,455.0 879.7,455.0C880.3,455.0 880.9,465.3 881.5,465.3C882.0,465.3 882.4,455.3 882.9,455.3C883.4,455.3 883.9,472.0 884.4,472.0C885.1,472.0 885.8,431.8 886.4,431.8C887.0,431.8 887.6,465.3 888.2,465.3C889.0,465.3 889.7,425.4 890.5,425.4C891.0,425.4 891.5,464.7 892.0,464.7C892.8,464.7 893.5,434.9 894.2,434.9C894.8,434.9 895.4,463.6 896.0,463.6C896.5,463.6 896.9,439.4 897.4,439.4C897.8,439.4 898.3,475.4 898.7,475.4C899.2,475.4 899.8,448.6 900.3,448.6C900.7,448.6 901.2,462.4 901.6,464.2C902.0,465.7 902.4,467.0 902.7,467.0C903.1,467.0 903.5,456.1 903.9,456.1C904.2,456.1 904.6,472.6 905.0,472.6C905.4,472.6 905.9,460.1 906.3,457.5C906.8,454.9 907.2,452.1 907.6,452.1" fill="none" stroke="#2d7db7" stroke-width="1.2" stroke-linejoin="round" stroke-linecap="round"/>
</g>
<g id="trace-P-before-extubation">
<path d="M1069.80,355.70H1406.30" fill="none" stroke="#2e2e2e" stroke-width="1.5"/>
<path d="M1069.80,580.70H1406.30" fill="none" stroke="#5e5e5e" stroke-width="1.3"/>
<path d="M1070.30,355.70V580.70M1405.80,355.70V580.70" fill="none" stroke="#8a8a8a" stroke-width="1"/>
<path d="M1068.30,355.70H1070.30M1068.30,383.82H1070.30M1068.30,411.95H1070.30M1068.30,440.08H1070.30M1068.30,468.20H1070.30M1068.30,496.33H1070.30M1068.30,524.45H1070.30M1068.30,552.58H1070.30M1068.30,580.70H1070.30" fill="none" stroke="#5e5e5e" stroke-width="1.1"/>
<path d="M1085.30,580.70V584.30M1123.42,580.70V584.30M1161.55,580.70V584.30M1199.67,580.70V584.30M1237.80,580.70V584.30M1275.92,580.70V584.30M1314.05,580.70V584.30M1352.17,580.70V584.30M1390.30,580.70V584.30" fill="none" stroke="#8a8a8a" stroke-width="0.9"/>
<g class="mt" text-anchor="end">
<text transform="translate(1066.70,359.60) scale(0.485,1)">80</text>
<text transform="translate(1066.70,387.72) scale(0.485,1)">60</text>
<text transform="translate(1066.70,415.85) scale(0.485,1)">40</text>
<text transform="translate(1066.70,443.98) scale(0.485,1)">20</text>
<text transform="translate(1066.70,472.10) scale(0.485,1)">0</text>
<text transform="translate(1066.70,500.23) scale(0.485,1)">−20</text>
<text transform="translate(1066.70,528.35) scale(0.485,1)">−40</text>
<text transform="translate(1066.70,556.48) scale(0.485,1)">−60</text>
<text transform="translate(1066.70,584.60) scale(0.485,1)">−80</text>
</g>
<g class="mt" text-anchor="middle">
<text transform="translate(1085.30,596.00) scale(0.485,1)">76</text>
<text transform="translate(1123.42,596.00) scale(0.485,1)">77</text>
<text transform="translate(1161.55,596.00) scale(0.485,1)">78</text>
<text transform="translate(1199.67,596.00) scale(0.485,1)">79</text>
<text transform="translate(1237.80,596.00) scale(0.485,1)">80</text>
<text transform="translate(1275.92,596.00) scale(0.485,1)">81</text>
<text transform="translate(1314.05,596.00) scale(0.485,1)">82</text>
<text transform="translate(1352.17,596.00) scale(0.485,1)">83</text>
<text transform="translate(1390.30,596.00) scale(0.485,1)">84</text>
<text transform="translate(1237.80,609.80) scale(0.485,1)">Times[s]</text>
<text class="vl" transform="translate(1052.60,469.00) scale(0.47,1) rotate(-90)">Voltage[uV]</text>
<text class="ti" transform="translate(1237.80,349.40) scale(0.485,1)">Before extubation</text>
</g>
<path d="M1085.1,467.5C1085.3,467.5 1085.4,459.7 1085.6,459.7C1085.9,459.7 1086.2,465.6 1086.5,467.5C1086.8,469.4 1087.1,472.0 1087.4,472.0C1087.7,472.0 1088.1,459.7 1088.5,459.7C1089.1,459.7 1089.7,481.4 1090.3,481.4C1090.8,481.4 1091.3,453.0 1091.8,453.0C1092.3,453.0 1092.7,468.6 1093.2,468.6C1093.5,468.6 1093.9,462.5 1094.3,462.5C1094.7,462.5 1095.2,467.5 1095.6,467.5C1096.1,467.5 1096.5,464.7 1097.0,464.7C1097.5,464.7 1098.0,467.9 1098.5,469.7C1098.9,471.0 1099.3,472.6 1099.7,474.2C1100.1,476.1 1100.6,480.3 1101.0,480.3C1101.5,480.3 1102.0,464.1 1102.6,464.1C1103.0,464.1 1103.5,481.1 1103.9,481.1C1104.3,481.1 1104.8,474.7 1105.2,473.6C1105.6,472.8 1106.0,472.9 1106.4,472.0C1106.8,470.8 1107.3,457.4 1107.7,457.4C1108.1,457.4 1108.4,479.8 1108.8,479.8C1109.2,479.8 1109.6,454.3 1109.9,454.3C1110.4,454.3 1110.8,472.0 1111.3,472.0C1111.6,472.0 1112.0,459.7 1112.4,459.7C1112.8,459.7 1113.1,468.6 1113.5,468.6C1113.9,468.6 1114.2,467.0 1114.6,465.3C1115.0,463.5 1115.4,451.9 1115.7,451.9C1116.3,451.9 1116.8,478.7 1117.3,478.7C1117.7,478.7 1118.2,451.3 1118.6,451.3C1119.1,451.3 1119.5,477.5 1120.0,477.5C1120.4,477.5 1120.9,458.6 1121.3,458.6C1121.8,458.6 1122.2,478.1 1122.7,478.1C1123.1,478.1 1123.6,464.1 1124.0,464.1C1124.4,464.1 1124.7,466.1 1125.1,467.5C1125.6,469.4 1126.2,474.7 1126.7,474.7C1127.2,474.7 1127.7,465.3 1128.2,465.3C1128.7,465.3 1129.1,474.7 1129.6,474.7C1130.0,474.7 1130.5,461.3 1130.9,461.3C1131.2,461.3 1131.5,470.8 1131.8,470.8C1132.2,470.8 1132.6,456.1 1132.9,456.1C1133.3,456.1 1133.7,472.0 1134.0,472.0C1134.3,472.0 1134.6,456.9 1134.9,456.9C1135.4,456.9 1135.8,475.3 1136.3,475.3C1136.7,475.3 1137.2,451.9 1137.6,451.9C1138.1,451.9 1138.5,478.7 1139.0,478.7C1139.3,478.7 1139.7,459.7 1140.1,459.7C1140.4,459.7 1140.8,475.3 1141.2,475.3C1141.6,475.3 1142.1,467.5 1142.5,467.5C1143.0,467.5 1143.4,474.2 1143.9,474.2C1144.3,474.2 1144.8,464.1 1145.2,464.1C1145.7,464.1 1146.1,475.9 1146.6,475.9C1147.0,475.9 1147.5,456.5 1147.9,456.5C1148.4,456.5 1148.9,477.0 1149.5,477.0C1149.8,477.0 1150.2,459.1 1150.6,459.1C1151.0,459.1 1151.5,473.1 1151.9,473.1C1152.2,473.1 1152.5,462.5 1152.8,462.5C1153.3,462.5 1153.7,467.9 1154.1,468.6C1154.5,469.2 1154.9,469.2 1155.3,469.7C1155.6,470.2 1156.0,472.5 1156.4,472.5C1156.8,472.5 1157.3,471.2 1157.7,469.7C1158.1,468.5 1158.5,460.8 1158.8,460.8C1159.1,460.8 1159.4,465.3 1159.7,465.3C1160.0,465.3 1160.3,459.7 1160.6,459.7C1161.1,459.7 1161.5,466.4 1162.0,466.4C1162.3,466.4 1162.7,461.9 1163.1,461.9C1163.5,461.9 1164.0,470.8 1164.4,470.8C1164.7,470.8 1165.0,461.3 1165.3,461.3C1165.6,461.3 1165.9,473.6 1166.2,473.6C1166.7,473.6 1167.1,453.5 1167.5,453.5C1167.9,453.5 1168.3,482.6 1168.7,482.6C1169.0,482.6 1169.4,458.0 1169.8,458.0C1170.2,458.0 1170.7,473.1 1171.1,473.1C1171.3,473.1 1171.6,464.1 1171.8,464.1C1172.2,464.1 1172.7,479.8 1173.1,479.8C1173.6,479.8 1174.2,460.8 1174.7,460.8C1175.1,460.8 1175.6,484.0 1176.0,484.0C1176.6,484.0 1177.1,452.4 1177.6,452.4C1178.0,452.4 1178.3,488.7 1178.7,488.7C1179.2,488.7 1179.8,454.6 1180.3,454.6C1180.7,454.6 1181.2,479.8 1181.6,479.8C1182.0,479.8 1182.4,458.6 1182.7,458.6C1183.2,458.6 1183.6,472.0 1184.1,472.0C1184.5,472.0 1185.0,464.1 1185.4,464.1C1185.8,464.1 1186.2,467.5 1186.5,467.5C1187.0,467.5 1187.4,460.8 1187.9,460.8C1188.3,460.8 1188.8,465.3 1189.2,465.3C1189.7,465.3 1190.1,457.4 1190.6,457.4C1190.8,457.4 1191.1,479.5 1191.3,479.5C1191.7,479.5 1192.1,456.9 1192.5,456.9C1192.8,456.9 1193.2,473.1 1193.6,473.1C1193.9,473.1 1194.2,459.1 1194.5,459.1C1194.9,459.1 1195.3,485.4 1195.7,485.4C1196.1,485.4 1196.6,447.4 1197.0,447.4C1197.4,447.4 1197.9,480.3 1198.3,480.3C1198.6,480.3 1199.0,477.7 1199.4,475.3C1199.7,473.4 1200.0,465.3 1200.3,465.3C1200.6,465.3 1200.9,479.8 1201.2,479.8C1201.6,479.8 1202.1,463.0 1202.5,463.0C1203.0,463.0 1203.6,480.3 1204.1,480.3C1204.5,480.3 1205.0,457.2 1205.4,457.2C1205.9,457.2 1206.3,466.4 1206.8,466.4C1207.2,466.4 1207.6,464.1 1208.1,464.1C1208.5,464.1 1208.8,471.4 1209.2,471.4C1209.6,471.4 1210.0,455.4 1210.3,455.4C1210.8,455.4 1211.2,462.4 1211.7,465.8C1212.0,468.6 1212.4,474.2 1212.8,474.2C1213.1,474.2 1213.5,450.2 1213.9,450.2C1214.4,450.2 1214.9,474.7 1215.5,474.7C1215.9,474.7 1216.4,458.0 1216.8,458.0C1217.2,458.0 1217.7,483.3 1218.1,483.3C1218.7,483.3 1219.2,453.0 1219.7,453.0C1220.2,453.0 1220.8,473.1 1221.3,473.1C1221.6,473.1 1222.0,464.1 1222.4,464.1C1222.8,464.1 1223.1,479.2 1223.5,479.2C1223.9,479.2 1224.4,461.3 1224.8,461.3C1225.3,461.3 1225.7,478.7 1226.2,478.7C1226.5,478.7 1226.9,461.3 1227.3,461.3C1227.8,461.3 1228.3,479.8 1228.9,479.8C1229.3,479.8 1229.8,465.8 1230.2,465.8C1230.7,465.8 1231.2,469.7 1231.8,469.7C1232.2,469.7 1232.7,459.7 1233.1,459.7C1233.5,459.7 1234.0,479.2 1234.4,479.2C1234.8,479.2 1235.2,455.4 1235.6,455.4C1235.9,455.4 1236.3,481.4 1236.7,481.4C1237.1,481.4 1237.6,460.6 1238.0,460.6C1238.5,460.6 1238.9,480.9 1239.4,480.9C1239.8,480.9 1240.3,459.7 1240.7,459.7C1240.8,459.7 1241.0,481.4 1241.1,481.4C1241.4,481.4 1241.7,450.2 1242.0,450.2C1242.5,450.2 1242.9,474.2 1243.4,474.2C1243.7,474.2 1244.0,459.7 1244.3,459.7C1244.8,459.7 1245.3,467.5 1245.8,467.5C1246.3,467.5 1246.7,459.1 1247.2,459.1C1247.5,459.1 1247.9,468.6 1248.3,468.6C1248.7,468.6 1249.0,466.4 1249.4,466.4C1249.7,466.4 1250.0,471.4 1250.3,471.4C1250.6,471.4 1251.0,451.3 1251.3,451.3C1251.7,451.3 1252.1,475.3 1252.5,475.3C1252.9,475.3 1253.3,458.6 1253.7,458.6C1254.1,458.6 1254.5,467.5 1255.0,467.5C1255.3,467.5 1255.6,463.0 1255.9,463.0C1256.3,463.0 1256.6,475.9 1257.0,475.9C1257.4,475.9 1257.9,454.6 1258.3,454.6C1258.8,454.6 1259.2,469.7 1259.7,469.7C1260.1,469.7 1260.4,460.2 1260.8,460.2C1261.2,460.2 1261.7,468.5 1262.1,472.0C1262.6,475.4 1263.0,481.4 1263.5,481.4C1264.1,481.4 1264.7,461.9 1265.3,461.9C1265.9,461.9 1266.5,477.5 1267.1,477.5C1267.4,477.5 1267.8,462.5 1268.2,462.5C1268.5,462.5 1268.9,468.0 1269.3,470.8C1269.7,473.7 1270.0,479.8 1270.4,479.8C1270.8,479.8 1271.3,468.6 1271.7,468.6C1272.1,468.6 1272.5,473.6 1272.9,473.6C1273.3,473.6 1273.8,467.7 1274.2,466.9C1274.6,466.3 1274.9,465.8 1275.3,465.8C1275.7,465.8 1276.1,473.6 1276.4,473.6C1276.9,473.6 1277.3,466.6 1277.8,465.3C1278.1,464.1 1278.5,463.0 1278.9,463.0C1279.3,463.0 1279.8,463.8 1280.2,464.7C1280.7,465.6 1281.1,472.5 1281.6,472.5C1282.0,472.5 1282.5,456.9 1282.9,456.9C1283.4,456.9 1284.0,468.6 1284.5,468.6C1285.0,468.6 1285.5,460.2 1286.0,460.2C1286.6,460.2 1287.1,472.5 1287.6,472.5C1288.3,472.5 1288.9,458.0 1289.6,458.0C1290.1,458.0 1290.7,474.2 1291.2,474.2C1291.6,474.2 1292.1,462.5 1292.5,462.5C1293.0,462.5 1293.4,470.3 1293.9,470.3C1294.2,470.3 1294.6,465.8 1295.0,465.8C1295.3,465.8 1295.7,467.5 1296.1,468.6C1296.5,469.9 1297.0,473.6 1297.4,473.6C1297.8,473.6 1298.2,467.5 1298.5,467.5C1299.0,467.5 1299.5,475.3 1300.0,475.3C1300.4,475.3 1300.9,464.7 1301.3,464.7C1301.8,464.7 1302.2,469.2 1302.7,469.2C1303.2,469.2 1303.7,468.6 1304.2,468.0C1304.7,467.5 1305.1,463.6 1305.6,463.6C1306.0,463.6 1306.3,469.7 1306.7,469.7C1307.1,469.7 1307.6,461.9 1308.0,461.9C1308.5,461.9 1308.9,465.6 1309.4,467.5C1309.7,469.1 1310.1,472.5 1310.5,472.5C1310.9,472.5 1311.2,457.2 1311.6,457.2C1312.1,457.2 1312.7,472.0 1313.2,472.0C1313.6,472.0 1314.1,460.2 1314.5,460.2C1314.9,460.2 1315.3,482.0 1315.6,482.0C1316.1,482.0 1316.7,463.6 1317.2,463.6C1317.8,463.6 1318.4,474.7 1319.0,474.7C1319.5,474.7 1320.0,455.8 1320.5,455.8C1321.0,455.8 1321.4,470.8 1321.9,470.8C1322.3,470.8 1322.6,462.3 1323.0,460.8C1323.4,459.0 1323.9,457.2 1324.3,457.2C1324.9,457.2 1325.4,469.2 1325.9,469.2C1326.3,469.2 1326.8,463.2 1327.2,463.2C1327.7,463.2 1328.1,463.6 1328.6,464.1C1329.0,464.7 1329.5,476.4 1329.9,476.4C1330.4,476.4 1331.0,470.6 1331.5,467.5C1331.9,464.8 1332.4,459.1 1332.8,459.1C1333.3,459.1 1333.7,479.8 1334.2,479.8C1334.6,479.8 1335.1,461.3 1335.5,461.3C1336.0,461.3 1336.4,481.1 1336.9,481.1C1337.3,481.1 1337.7,455.4 1338.2,455.4C1338.6,455.4 1339.1,473.6 1339.5,473.6C1340.0,473.6 1340.4,469.7 1340.9,469.7C1341.3,469.7 1341.8,474.2 1342.2,474.2C1342.7,474.2 1343.1,469.1 1343.6,468.6C1344.1,468.0 1344.6,468.1 1345.1,467.5C1345.6,466.9 1346.2,463.0 1346.7,463.0C1347.1,463.0 1347.6,474.0 1348.0,474.0C1348.7,474.0 1349.4,458.0 1350.0,458.0C1350.5,458.0 1351.1,472.0 1351.6,472.0C1352.0,472.0 1352.5,466.4 1352.9,466.4C1353.4,466.4 1353.8,468.6 1354.3,469.7C1354.7,470.8 1355.2,473.1 1355.6,473.1C1356.0,473.1 1356.4,458.6 1356.7,458.6C1357.1,458.6 1357.5,475.9 1357.8,475.9C1358.4,475.9 1359.0,459.7 1359.6,459.7C1359.9,459.7 1360.2,473.1 1360.5,473.1C1361.0,473.1 1361.4,456.3 1361.9,456.3C1362.3,456.3 1362.8,476.6 1363.2,476.6C1363.6,476.6 1364.1,458.0 1364.5,458.0C1365.0,458.0 1365.4,473.1 1365.9,473.1C1366.3,473.1 1366.6,461.9 1367.0,461.9C1367.4,461.9 1367.7,464.1 1368.1,464.1C1368.6,464.1 1369.0,453.9 1369.5,453.9C1369.9,453.9 1370.4,476.2 1370.8,476.2C1371.3,476.2 1371.8,453.5 1372.4,453.5C1372.7,453.5 1373.1,475.3 1373.5,475.3C1374.0,475.3 1374.5,463.6 1375.0,463.6C1375.5,463.6 1375.9,473.1 1376.4,473.1C1376.9,473.1 1377.4,459.7 1377.9,459.7C1378.5,459.7 1379.0,480.3 1379.5,480.3C1380.0,480.3 1380.4,470.6 1380.8,468.6C1381.2,467.0 1381.6,465.3 1382.0,465.3C1382.3,465.3 1382.6,478.7 1382.9,478.7C1383.3,478.7 1383.8,460.2 1384.2,460.2C1384.4,460.2 1384.6,478.7 1384.9,478.7C1385.3,478.7 1385.8,455.2 1386.2,455.2C1386.6,455.2 1387.0,485.4 1387.3,485.4C1387.8,485.4 1388.2,453.5 1388.7,453.5C1389.0,453.5 1389.3,480.9 1389.6,480.9C1389.8,480.9 1390.0,470.8 1390.2,470.8C1390.3,470.8 1390.4,481.4 1390.5,481.4" fill="none" stroke="#2d7db7" stroke-width="1.2" stroke-linejoin="round" stroke-linecap="round"/>
</g>
<g id="chart-C">
<rect x="96.44" y="808.69" width="19.82" height="48.01" fill="#5b9bd5"/>
<rect x="123.19" y="800.02" width="19.45" height="56.68" fill="#ecb27c"/>
<rect x="159.73" y="771.54" width="19.20" height="85.16" fill="#5b9bd5"/>
<rect x="185.99" y="769.68" width="19.45" height="87.02" fill="#ecb27c"/>
<rect x="222.28" y="811.54" width="19.82" height="45.16" fill="#5b9bd5"/>
<rect x="248.91" y="823.56" width="19.45" height="33.14" fill="#ecb27c"/>
<path d="M90.20,676.10V857.60M89.30,856.70H275.80M82.60,677.00H90.20M82.60,736.90H90.20M82.60,796.80H90.20M82.60,856.70H90.20M119.10,856.70V865.20M182.00,856.70V865.20M245.10,856.70V865.20" fill="none" stroke="#000" stroke-width="1.9"/>
<g class="tk" text-anchor="end">
<text transform="translate(80.40,682.05) scale(1.0,1.0)">30</text>
<text transform="translate(80.40,741.95) scale(1.0,1.0)">20</text>
<text transform="translate(80.40,801.85) scale(1.0,1.0)">10</text>
<text transform="translate(80.40,861.75) scale(1.0,1.0)">0</text>
<text class="xl" transform="translate(118.90,881.60) rotate(-45)">Induction</text>
<text class="xl" transform="translate(183.50,880.70) rotate(-45)">Maintenance</text>
<text class="xl" transform="translate(249.10,877.40) rotate(-45)">Before extubation</text>
</g>
<text class="yl" text-anchor="middle" transform="translate(54.50,766.80) scale(1.0,1.03) rotate(-90)">Alpha(dB)</text>
<path d="M132.5,723.5L132.5,699.5L258.5,699.5L258.5,714.5M198.5,733.5L198.5,723.5L258.5,723.5L258.5,791.5M132.5,771.5L132.5,733.5L191.5,733.5L191.5,737.5M172.5,772.5L172.5,749.5L232.5,749.5L232.5,778.5M106.5,777.5L106.5,771.5L160.5,771.5" fill="none" stroke="#6a6a6a" stroke-width="1"/>
<path d="M106.1,791.7V834.7M101.5,791.7H110.7M132.5,785.5V814.8M128.0,785.5H136.9M169.3,752.6V793.2M164.6,752.6H173.9M195.5,751.1V781.2M191.8,751.1H199.2M232.1,793.2V830.4M227.4,793.2H236.7M258.2,806.2V840.3M253.5,806.2H262.8" fill="none" stroke="#000" stroke-width="1.2"/>
<g fill="none" stroke="#000" stroke-width="1.7">
<circle cx="106.3" cy="780.5" r="2.0"/>
<circle cx="98.1" cy="788.9" r="2.0"/>
<circle cx="106.3" cy="788.9" r="2.0"/>
<circle cx="114.5" cy="787.3" r="2.0"/>
<circle cx="98.1" cy="793.8" r="2.0"/>
<circle cx="98.1" cy="798.2" r="2.0"/>
<circle cx="114.5" cy="797.2" r="2.0"/>
<circle cx="98.1" cy="802.1" r="2.0"/>
<circle cx="114.5" cy="804.4" r="2.0"/>
<circle cx="106.3" cy="811.8" r="2.0"/>
<circle cx="98.1" cy="820.5" r="2.0"/>
<circle cx="106.3" cy="819.8" r="2.0"/>
<circle cx="114.5" cy="820.7" r="2.0"/>
<circle cx="98.1" cy="827.3" r="2.0"/>
<circle cx="106.3" cy="827.6" r="2.0"/>
<circle cx="114.5" cy="826.4" r="2.0"/>
<circle cx="114.5" cy="830.6" r="2.0"/>
<circle cx="98.1" cy="832.8" r="2.0"/>
<circle cx="124.4" cy="782.1" r="2.0"/>
<circle cx="128.4" cy="782.1" r="2.0"/>
<circle cx="132.5" cy="783.6" r="2.0"/>
<circle cx="136.8" cy="781.4" r="2.0"/>
<circle cx="141.0" cy="782.4" r="2.0"/>
<circle cx="124.4" cy="793.0" r="2.0"/>
<circle cx="128.4" cy="792.0" r="2.0"/>
<circle cx="136.8" cy="792.0" r="2.0"/>
<circle cx="128.4" cy="795.9" r="2.0"/>
<circle cx="125.9" cy="802.7" r="2.0"/>
<circle cx="130.4" cy="802.7" r="2.0"/>
<circle cx="134.6" cy="805.0" r="2.0"/>
<circle cx="138.9" cy="804.4" r="2.0"/>
<circle cx="130.4" cy="809.7" r="2.0"/>
<circle cx="134.6" cy="811.5" r="2.0"/>
<circle cx="128.1" cy="815.5" r="2.0"/>
<circle cx="136.8" cy="817.4" r="2.0"/>
<circle cx="132.5" cy="819.5" r="2.0"/>
<circle cx="132.5" cy="830.4" r="2.0"/>
<circle cx="177.4" cy="738.3" r="2.0"/>
<circle cx="169.3" cy="740.8" r="2.0"/>
<circle cx="173.2" cy="747.6" r="2.0"/>
<circle cx="165.1" cy="750.7" r="2.0"/>
<circle cx="173.2" cy="754.4" r="2.0"/>
<circle cx="165.1" cy="756.3" r="2.0"/>
<circle cx="161.0" cy="761.3" r="2.0"/>
<circle cx="161.0" cy="774.9" r="2.0"/>
<circle cx="169.3" cy="772.8" r="2.0"/>
<circle cx="177.4" cy="772.5" r="2.0"/>
<circle cx="169.3" cy="777.7" r="2.0"/>
<circle cx="161.0" cy="782.3" r="2.0"/>
<circle cx="169.3" cy="782.1" r="2.0"/>
<circle cx="177.4" cy="785.5" r="2.0"/>
<circle cx="161.0" cy="788.5" r="2.0"/>
<circle cx="169.3" cy="786.8" r="2.0"/>
<circle cx="177.4" cy="789.5" r="2.0"/>
<circle cx="173.2" cy="798.5" r="2.0"/>
<circle cx="165.1" cy="801.0" r="2.0"/>
<circle cx="197.1" cy="736.5" r="2.0"/>
<circle cx="193.0" cy="737.7" r="2.0"/>
<circle cx="193.0" cy="750.5" r="2.0"/>
<circle cx="187.2" cy="767.0" r="2.0"/>
<circle cx="191.3" cy="766.0" r="2.0"/>
<circle cx="199.6" cy="765.3" r="2.0"/>
<circle cx="203.9" cy="767.2" r="2.0"/>
<circle cx="191.3" cy="770.3" r="2.0"/>
<circle cx="195.5" cy="771.8" r="2.0"/>
<circle cx="195.5" cy="775.9" r="2.0"/>
<circle cx="195.5" cy="780.6" r="2.0"/>
<circle cx="195.5" cy="785.5" r="2.0"/>
<circle cx="191.3" cy="792.2" r="2.0"/>
<circle cx="195.5" cy="794.5" r="2.0"/>
<circle cx="199.6" cy="794.5" r="2.0"/>
<circle cx="191.3" cy="796.1" r="2.0"/>
<circle cx="229.3" cy="781.2" r="2.0"/>
<circle cx="234.9" cy="781.2" r="2.0"/>
<circle cx="232.1" cy="786.4" r="2.0"/>
<circle cx="232.1" cy="791.4" r="2.0"/>
<circle cx="240.5" cy="797.9" r="2.0"/>
<circle cx="240.5" cy="801.9" r="2.0"/>
<circle cx="229.3" cy="801.3" r="2.0"/>
<circle cx="223.8" cy="802.5" r="2.0"/>
<circle cx="229.3" cy="811.2" r="2.0"/>
<circle cx="223.8" cy="812.4" r="2.0"/>
<circle cx="223.8" cy="816.7" r="2.0"/>
<circle cx="229.3" cy="816.1" r="2.0"/>
<circle cx="234.9" cy="816.1" r="2.0"/>
<circle cx="240.5" cy="816.7" r="2.0"/>
<circle cx="226.2" cy="827.3" r="2.0"/>
<circle cx="232.1" cy="827.9" r="2.0"/>
<circle cx="237.6" cy="827.3" r="2.0"/>
<circle cx="229.3" cy="832.8" r="2.0"/>
<circle cx="234.9" cy="835.9" r="2.0"/>
<circle cx="232.1" cy="840.0" r="2.0"/>
<circle cx="258.2" cy="793.7" r="2.0"/>
<circle cx="258.2" cy="803.7" r="2.0"/>
<circle cx="255.3" cy="807.2" r="2.0"/>
<circle cx="250.1" cy="809.7" r="2.0"/>
<circle cx="266.9" cy="810.2" r="2.0"/>
<circle cx="260.9" cy="812.8" r="2.0"/>
<circle cx="266.9" cy="822.1" r="2.0"/>
<circle cx="250.1" cy="823.9" r="2.0"/>
<circle cx="260.9" cy="823.6" r="2.0"/>
<circle cx="260.9" cy="827.6" r="2.0"/>
<circle cx="250.1" cy="830.1" r="2.0"/>
<circle cx="250.1" cy="834.1" r="2.0"/>
<circle cx="266.9" cy="833.5" r="2.0"/>
<circle cx="255.3" cy="835.9" r="2.0"/>
<circle cx="260.9" cy="836.8" r="2.0"/>
<circle cx="255.3" cy="841.3" r="2.0"/>
<circle cx="260.9" cy="844.0" r="2.0"/>
<circle cx="258.2" cy="850.6" r="2.0"/>
</g>
<g fill="#000">
<circle cx="106.3" cy="800.6" r="2.75"/>
<circle cx="106.3" cy="805.3" r="2.75"/>
<circle cx="132.5" cy="795.1" r="2.75"/>
<circle cx="169.3" cy="764.5" r="2.75"/>
<circle cx="197.5" cy="751.3" r="2.75"/>
<circle cx="195.5" cy="755.4" r="2.75"/>
<circle cx="195.5" cy="760.4" r="2.75"/>
<circle cx="195.5" cy="767.4" r="2.75"/>
<circle cx="260.9" cy="807.5" r="2.75"/>
<circle cx="258.2" cy="816.7" r="2.75"/>
</g>
<text class="st" x="195.9" y="698.2" font-size="7.6" font-weight="bold" letter-spacing="2.05">***</text>
<text class="st" x="229.4" y="722.3" font-size="7.6" font-weight="bold" letter-spacing="2.05">***</text>
<text class="st" x="162.4" y="732.0" font-size="7.6" font-weight="bold" letter-spacing="2.05">***</text>
<text class="st" x="202.9" y="747.6" font-size="7.6" font-weight="bold" letter-spacing="2.05">***</text>
<text class="st" x="136.0" y="770.0" font-size="7.6" font-weight="bold" letter-spacing="2.05">***</text>
</g>
<g id="chart-D">
<rect x="343.05" y="781.69" width="19.82" height="40.04" fill="#5b9bd5"/>
<rect x="369.31" y="754.07" width="19.57" height="67.66" fill="#ecb27c"/>
<rect x="405.84" y="764.97" width="19.82" height="56.76" fill="#5b9bd5"/>
<rect x="432.23" y="751.35" width="19.82" height="70.38" fill="#ecb27c"/>
<rect x="468.76" y="774.51" width="19.82" height="47.22" fill="#5b9bd5"/>
<rect x="495.14" y="771.17" width="19.82" height="50.57" fill="#ecb27c"/>
<path d="M336.30,648.50V857.10M335.40,856.20H521.50M336.30,821.73H521.50M328.70,649.40H336.30M328.70,683.87H336.30M328.70,718.33H336.30M328.70,752.80H336.30M328.70,787.27H336.30M328.70,821.73H336.30M328.70,856.20H336.30M365.80,856.20V864.70M428.60,856.20V864.70M491.80,856.20V864.70" fill="none" stroke="#000" stroke-width="1.9"/>
<g class="tk" text-anchor="end">
<text transform="translate(326.50,654.55) scale(0.96,1.02)">25</text>
<text transform="translate(326.50,689.02) scale(0.96,1.02)">20</text>
<text transform="translate(326.50,723.48) scale(0.96,1.02)">15</text>
<text transform="translate(326.50,757.95) scale(0.96,1.02)">10</text>
<text transform="translate(326.50,792.42) scale(0.96,1.02)">5</text>
<text transform="translate(326.50,826.88) scale(0.96,1.02)">0</text>
<text transform="translate(326.50,861.35) scale(0.96,1.02)">-5</text>
<text class="xl" transform="translate(365.58,884.76) scale(1.01,1.147) rotate(-45)">Induction</text>
<text class="xl" transform="translate(430.10,883.73) scale(1.01,1.147) rotate(-45)">Maintenance</text>
<text class="xl" transform="translate(495.82,879.94) scale(1.01,1.147) rotate(-45)">Before extubation</text>
</g>
<text class="yl" text-anchor="middle" transform="translate(302.00,752.70) scale(1.01,1.147) rotate(-90)">Beta(dB)</text>
<path d="M343.5,758.5L343.5,659.5L375.5,659.5L375.5,680.5M378.5,699.5L378.5,684.5L505.5,684.5L505.5,698.5M352.5,760.5L352.5,707.5L415.5,707.5L415.5,723.5M442.5,717.5L442.5,712.5L505.5,712.5L505.5,732.5" fill="none" stroke="#6a6a6a" stroke-width="1"/>
<path d="M352.7,768.7V781.7M348.1,768.7H357.4M379.2,730.9V754.1M374.9,730.9H383.6M415.8,743.5V765.0M410.9,743.5H420.6M442.1,726.6V751.3M438.4,726.6H445.8M478.7,751.6V774.5M474.3,751.6H483.0M505.1,747.6V771.2M500.2,747.6H509.9" fill="none" stroke="#000" stroke-width="1.5"/>
<g fill="none" stroke="#000" stroke-width="1.7">
<circle cx="344.7" cy="761.5" r="2.0"/>
<circle cx="350.1" cy="761.0" r="2.0"/>
<circle cx="361.0" cy="762.2" r="2.0"/>
<circle cx="350.1" cy="765.2" r="2.0"/>
<circle cx="355.6" cy="765.2" r="2.0"/>
<circle cx="344.7" cy="772.2" r="2.0"/>
<circle cx="361.0" cy="771.8" r="2.0"/>
<circle cx="344.7" cy="776.4" r="2.0"/>
<circle cx="350.1" cy="775.9" r="2.0"/>
<circle cx="355.6" cy="774.9" r="2.0"/>
<circle cx="361.0" cy="778.6" r="2.0"/>
<circle cx="352.7" cy="782.9" r="2.0"/>
<circle cx="344.7" cy="794.3" r="2.0"/>
<circle cx="350.1" cy="793.5" r="2.0"/>
<circle cx="355.6" cy="793.5" r="2.0"/>
<circle cx="361.0" cy="793.7" r="2.0"/>
<circle cx="344.7" cy="799.7" r="2.0"/>
<circle cx="355.6" cy="802.4" r="2.0"/>
<circle cx="361.0" cy="800.9" r="2.0"/>
<circle cx="344.7" cy="803.7" r="2.0"/>
<circle cx="379.2" cy="709.9" r="2.0"/>
<circle cx="379.2" cy="726.6" r="2.0"/>
<circle cx="387.4" cy="725.0" r="2.0"/>
<circle cx="374.9" cy="732.5" r="2.0"/>
<circle cx="383.3" cy="732.5" r="2.0"/>
<circle cx="374.9" cy="739.0" r="2.0"/>
<circle cx="383.3" cy="741.2" r="2.0"/>
<circle cx="370.9" cy="753.6" r="2.0"/>
<circle cx="387.4" cy="755.9" r="2.0"/>
<circle cx="379.2" cy="758.4" r="2.0"/>
<circle cx="387.4" cy="764.4" r="2.0"/>
<circle cx="370.9" cy="765.6" r="2.0"/>
<circle cx="379.2" cy="766.2" r="2.0"/>
<circle cx="379.2" cy="771.4" r="2.0"/>
<circle cx="387.4" cy="779.2" r="2.0"/>
<circle cx="379.2" cy="782.9" r="2.0"/>
<circle cx="379.2" cy="787.9" r="2.0"/>
<circle cx="379.2" cy="792.5" r="2.0"/>
<circle cx="415.8" cy="725.7" r="2.0"/>
<circle cx="424.2" cy="736.7" r="2.0"/>
<circle cx="415.8" cy="739.0" r="2.0"/>
<circle cx="424.2" cy="745.2" r="2.0"/>
<circle cx="407.6" cy="753.8" r="2.0"/>
<circle cx="424.2" cy="755.7" r="2.0"/>
<circle cx="407.6" cy="761.0" r="2.0"/>
<circle cx="424.2" cy="762.2" r="2.0"/>
<circle cx="415.8" cy="771.4" r="2.0"/>
<circle cx="424.2" cy="777.4" r="2.0"/>
<circle cx="415.8" cy="779.8" r="2.0"/>
<circle cx="407.6" cy="782.3" r="2.0"/>
<circle cx="415.8" cy="785.4" r="2.0"/>
<circle cx="415.8" cy="795.3" r="2.0"/>
<circle cx="424.2" cy="797.2" r="2.0"/>
<circle cx="407.6" cy="800.3" r="2.0"/>
<circle cx="442.1" cy="709.5" r="2.0"/>
<circle cx="439.3" cy="718.8" r="2.0"/>
<circle cx="445.0" cy="721.0" r="2.0"/>
<circle cx="439.3" cy="725.0" r="2.0"/>
<circle cx="445.0" cy="726.8" r="2.0"/>
<circle cx="439.3" cy="730.5" r="2.0"/>
<circle cx="439.3" cy="737.4" r="2.0"/>
<circle cx="445.0" cy="740.4" r="2.0"/>
<circle cx="433.8" cy="752.6" r="2.0"/>
<circle cx="450.4" cy="752.8" r="2.0"/>
<circle cx="439.3" cy="755.7" r="2.0"/>
<circle cx="445.0" cy="755.3" r="2.0"/>
<circle cx="442.1" cy="762.2" r="2.0"/>
<circle cx="439.3" cy="769.9" r="2.0"/>
<circle cx="445.0" cy="768.7" r="2.0"/>
<circle cx="445.0" cy="773.4" r="2.0"/>
<circle cx="442.1" cy="785.0" r="2.0"/>
<circle cx="442.1" cy="793.5" r="2.0"/>
<circle cx="442.1" cy="798.4" r="2.0"/>
<circle cx="478.7" cy="739.6" r="2.0"/>
<circle cx="478.7" cy="745.2" r="2.0"/>
<circle cx="478.7" cy="751.6" r="2.0"/>
<circle cx="474.6" cy="753.6" r="2.0"/>
<circle cx="482.8" cy="753.8" r="2.0"/>
<circle cx="482.8" cy="768.7" r="2.0"/>
<circle cx="487.1" cy="768.1" r="2.0"/>
<circle cx="474.6" cy="770.5" r="2.0"/>
<circle cx="478.7" cy="779.6" r="2.0"/>
<circle cx="474.6" cy="781.3" r="2.0"/>
<circle cx="482.8" cy="781.3" r="2.0"/>
<circle cx="470.4" cy="782.6" r="2.0"/>
<circle cx="487.1" cy="782.3" r="2.0"/>
<circle cx="478.7" cy="784.2" r="2.0"/>
<circle cx="478.7" cy="809.3" r="2.0"/>
<circle cx="478.7" cy="816.4" r="2.0"/>
<circle cx="478.7" cy="824.2" r="2.0"/>
<circle cx="513.4" cy="732.8" r="2.0"/>
<circle cx="505.1" cy="735.5" r="2.0"/>
<circle cx="505.1" cy="743.7" r="2.0"/>
<circle cx="496.9" cy="748.9" r="2.0"/>
<circle cx="513.4" cy="751.6" r="2.0"/>
<circle cx="496.9" cy="755.1" r="2.0"/>
<circle cx="513.4" cy="757.8" r="2.0"/>
<circle cx="496.9" cy="769.6" r="2.0"/>
<circle cx="513.4" cy="770.5" r="2.0"/>
<circle cx="505.1" cy="773.0" r="2.0"/>
<circle cx="505.1" cy="777.6" r="2.0"/>
<circle cx="513.4" cy="780.5" r="2.0"/>
<circle cx="496.9" cy="782.9" r="2.0"/>
<circle cx="505.1" cy="784.8" r="2.0"/>
<circle cx="505.1" cy="789.1" r="2.0"/>
<circle cx="513.4" cy="791.2" r="2.0"/>
<circle cx="505.1" cy="793.5" r="2.0"/>
<circle cx="505.1" cy="802.7" r="2.0"/>
<circle cx="505.1" cy="820.5" r="2.0"/>
</g>
<g fill="#000">
<circle cx="379.2" cy="745.8" r="2.75"/>
<circle cx="379.2" cy="750.7" r="2.75"/>
<circle cx="415.8" cy="748.9" r="2.75"/>
<circle cx="415.8" cy="753.2" r="2.75"/>
<circle cx="415.8" cy="757.5" r="2.75"/>
<circle cx="415.8" cy="764.0" r="2.75"/>
<circle cx="442.1" cy="746.1" r="2.75"/>
<circle cx="478.7" cy="758.2" r="2.75"/>
<circle cx="478.7" cy="763.1" r="2.75"/>
<circle cx="478.7" cy="771.4" r="2.75"/>
<circle cx="505.1" cy="753.6" r="2.75"/>
</g>
<text class="st" x="359.8" y="655.0" font-size="14" font-weight="bold" letter-spacing="1.7">***</text>
<text class="st" x="442.5" y="681.7" font-size="7.6" font-weight="bold" letter-spacing="2.05">***</text>
<text class="st" x="384.7" y="704.9" font-size="7.6" font-weight="bold" letter-spacing="2.05">***</text>
<text class="st" x="473.9" y="710.2" font-size="7.6" font-weight="bold" letter-spacing="2.05">***</text>
</g>
<g id="chart-E">
<rect x="595.68" y="739.87" width="19.32" height="115.63" fill="#5b9bd5"/>
<rect x="621.19" y="772.69" width="20.31" height="82.81" fill="#ecb27c"/>
<rect x="657.98" y="769.59" width="18.95" height="85.91" fill="#5b9bd5"/>
<rect x="683.37" y="779.50" width="19.82" height="76.00" fill="#ecb27c"/>
<rect x="719.53" y="808.85" width="19.57" height="46.65" fill="#5b9bd5"/>
<rect x="745.30" y="813.56" width="20.06" height="41.94" fill="#ecb27c"/>
<path d="M590.00,657.40V856.40M589.10,855.50H771.60M582.40,658.30H590.00M582.40,707.60H590.00M582.40,756.90H590.00M582.40,806.20H590.00M582.40,855.50H590.00M617.80,855.50V864.00M680.30,855.50V864.00M741.90,855.50V864.00" fill="none" stroke="#000" stroke-width="1.9"/>
<g class="tk" text-anchor="end">
<text transform="translate(580.20,663.45) scale(0.96,1.02)">40</text>
<text transform="translate(580.20,712.75) scale(0.96,1.02)">30</text>
<text transform="translate(580.20,762.05) scale(0.96,1.02)">20</text>
<text transform="translate(580.20,811.35) scale(0.96,1.02)">10</text>
<text transform="translate(580.20,860.65) scale(0.96,1.02)">0</text>
<text class="xl" transform="translate(617.60,883.29) scale(1.0,1.116) rotate(-45)">Induction</text>
<text class="xl" transform="translate(681.80,882.28) scale(1.0,1.116) rotate(-45)">Maintenance</text>
<text class="xl" transform="translate(745.90,878.60) scale(1.0,1.116) rotate(-45)">Before extubation</text>
</g>
<text class="yl" text-anchor="middle" transform="translate(556.30,756.60) scale(1.0,1.183) rotate(-90)">Delta(dB)</text>
<path d="M606.5,666.5L606.5,660.5L632.5,660.5L632.5,666.5M631.5,691.5L631.5,669.5L755.5,669.5L755.5,717.5M605.5,700.5L605.5,683.5L729.5,683.5L729.5,727.5M605.5,721.5L663.5,721.5L663.5,756.5M693.5,734.5L693.5,727.5L755.5,727.5L755.5,788.5M670.5,798.5L670.5,747.5L729.5,747.5L729.5,785.5" fill="none" stroke="#6a6a6a" stroke-width="1"/>
<path d="M605.3,730.6V739.9M601.6,730.6H609.1M631.0,754.4V772.7M626.6,754.4H635.3M667.3,761.5V769.6M663.6,761.5H671.0M693.0,766.5V779.5M689.3,766.5H696.7M729.2,794.4V808.9M725.5,794.4H732.9M755.2,807.4V813.6M751.5,807.4H758.9" fill="none" stroke="#000" stroke-width="1.5"/>
<g fill="none" stroke="#000" stroke-width="1.6">
<circle cx="605.3" cy="717.0" r="1.8"/>
<circle cx="609.7" cy="719.2" r="1.8"/>
<circle cx="605.3" cy="721.3" r="1.8"/>
<circle cx="601.3" cy="726.6" r="1.8"/>
<circle cx="605.3" cy="727.1" r="1.8"/>
<circle cx="609.7" cy="728.7" r="1.8"/>
<circle cx="601.3" cy="734.7" r="1.8"/>
<circle cx="605.3" cy="732.4" r="1.8"/>
<circle cx="613.4" cy="734.0" r="1.8"/>
<circle cx="596.9" cy="738.3" r="1.8"/>
<circle cx="601.3" cy="740.2" r="1.8"/>
<circle cx="605.3" cy="738.3" r="1.8"/>
<circle cx="609.7" cy="737.4" r="1.8"/>
<circle cx="613.8" cy="738.0" r="1.8"/>
<circle cx="605.3" cy="742.3" r="1.8"/>
<circle cx="609.7" cy="741.5" r="1.8"/>
<circle cx="601.3" cy="748.2" r="1.8"/>
<circle cx="605.3" cy="747.9" r="1.8"/>
<circle cx="609.7" cy="748.5" r="1.8"/>
<circle cx="605.3" cy="754.1" r="1.8"/>
<circle cx="605.3" cy="772.9" r="1.8"/>
<circle cx="631.0" cy="737.1" r="1.8"/>
<circle cx="628.3" cy="748.8" r="1.8"/>
<circle cx="634.1" cy="748.5" r="1.8"/>
<circle cx="628.3" cy="756.0" r="1.8"/>
<circle cx="623.1" cy="759.7" r="1.8"/>
<circle cx="628.3" cy="761.5" r="1.8"/>
<circle cx="634.1" cy="759.7" r="1.8"/>
<circle cx="639.4" cy="759.3" r="1.8"/>
<circle cx="628.3" cy="769.6" r="1.8"/>
<circle cx="634.1" cy="770.0" r="1.8"/>
<circle cx="628.3" cy="777.0" r="1.8"/>
<circle cx="623.1" cy="781.6" r="1.8"/>
<circle cx="634.1" cy="780.5" r="1.8"/>
<circle cx="639.4" cy="780.4" r="1.8"/>
<circle cx="628.3" cy="783.6" r="1.8"/>
<circle cx="628.3" cy="788.2" r="1.8"/>
<circle cx="634.1" cy="789.4" r="1.8"/>
<circle cx="625.5" cy="800.9" r="1.8"/>
<circle cx="631.0" cy="799.3" r="1.8"/>
<circle cx="636.6" cy="800.6" r="1.8"/>
<circle cx="667.3" cy="752.3" r="1.8"/>
<circle cx="667.3" cy="757.6" r="1.8"/>
<circle cx="662.3" cy="761.8" r="1.8"/>
<circle cx="667.3" cy="761.5" r="1.8"/>
<circle cx="671.6" cy="762.2" r="1.8"/>
<circle cx="675.7" cy="763.4" r="1.8"/>
<circle cx="659.2" cy="764.6" r="1.8"/>
<circle cx="663.6" cy="766.5" r="1.8"/>
<circle cx="667.9" cy="765.9" r="1.8"/>
<circle cx="672.2" cy="765.3" r="1.8"/>
<circle cx="659.2" cy="769.0" r="1.8"/>
<circle cx="672.2" cy="769.0" r="1.8"/>
<circle cx="675.7" cy="768.0" r="1.8"/>
<circle cx="665.8" cy="773.3" r="1.8"/>
<circle cx="669.1" cy="777.4" r="1.8"/>
<circle cx="662.3" cy="781.1" r="1.8"/>
<circle cx="667.3" cy="780.7" r="1.8"/>
<circle cx="672.2" cy="781.1" r="1.8"/>
<circle cx="669.1" cy="783.2" r="1.8"/>
<circle cx="665.8" cy="786.9" r="1.8"/>
<circle cx="693.0" cy="744.0" r="1.8"/>
<circle cx="693.0" cy="763.0" r="1.8"/>
<circle cx="697.0" cy="766.5" r="1.8"/>
<circle cx="685.2" cy="768.4" r="1.8"/>
<circle cx="693.0" cy="770.2" r="1.8"/>
<circle cx="688.9" cy="772.7" r="1.8"/>
<circle cx="697.0" cy="772.1" r="1.8"/>
<circle cx="685.2" cy="775.2" r="1.8"/>
<circle cx="693.0" cy="775.2" r="1.8"/>
<circle cx="697.0" cy="777.0" r="1.8"/>
<circle cx="701.7" cy="776.7" r="1.8"/>
<circle cx="688.9" cy="779.5" r="1.8"/>
<circle cx="693.0" cy="779.9" r="1.8"/>
<circle cx="685.2" cy="780.4" r="1.8"/>
<circle cx="688.9" cy="783.6" r="1.8"/>
<circle cx="685.2" cy="785.1" r="1.8"/>
<circle cx="693.0" cy="786.1" r="1.8"/>
<circle cx="697.0" cy="785.7" r="1.8"/>
<circle cx="690.8" cy="790.0" r="1.8"/>
<circle cx="695.1" cy="793.5" r="1.8"/>
<circle cx="693.0" cy="797.5" r="1.8"/>
<circle cx="729.2" cy="787.2" r="1.8"/>
<circle cx="733.5" cy="790.6" r="1.8"/>
<circle cx="725.1" cy="793.1" r="1.8"/>
<circle cx="729.2" cy="794.0" r="1.8"/>
<circle cx="733.5" cy="796.8" r="1.8"/>
<circle cx="725.1" cy="797.5" r="1.8"/>
<circle cx="729.2" cy="800.2" r="1.8"/>
<circle cx="725.1" cy="803.7" r="1.8"/>
<circle cx="729.2" cy="804.3" r="1.8"/>
<circle cx="733.5" cy="804.3" r="1.8"/>
<circle cx="725.1" cy="808.6" r="1.8"/>
<circle cx="729.2" cy="809.8" r="1.8"/>
<circle cx="733.5" cy="809.8" r="1.8"/>
<circle cx="725.1" cy="813.8" r="1.8"/>
<circle cx="729.2" cy="812.9" r="1.8"/>
<circle cx="733.5" cy="815.4" r="1.8"/>
<circle cx="720.8" cy="820.4" r="1.8"/>
<circle cx="725.1" cy="821.2" r="1.8"/>
<circle cx="729.2" cy="821.6" r="1.8"/>
<circle cx="733.5" cy="821.2" r="1.8"/>
<circle cx="737.6" cy="819.8" r="1.8"/>
<circle cx="729.2" cy="832.4" r="1.8"/>
<circle cx="753.7" cy="791.3" r="1.8"/>
<circle cx="756.4" cy="792.8" r="1.8"/>
<circle cx="752.4" cy="801.8" r="1.8"/>
<circle cx="757.9" cy="804.6" r="1.8"/>
<circle cx="749.6" cy="807.6" r="1.8"/>
<circle cx="755.2" cy="807.6" r="1.8"/>
<circle cx="760.5" cy="809.8" r="1.8"/>
<circle cx="752.4" cy="810.5" r="1.8"/>
<circle cx="746.9" cy="814.8" r="1.8"/>
<circle cx="755.2" cy="813.3" r="1.8"/>
<circle cx="749.6" cy="817.9" r="1.8"/>
<circle cx="757.9" cy="816.7" r="1.8"/>
<circle cx="763.3" cy="817.9" r="1.8"/>
<circle cx="752.4" cy="819.8" r="1.8"/>
<circle cx="757.9" cy="821.0" r="1.8"/>
<circle cx="756.4" cy="825.9" r="1.8"/>
<circle cx="753.7" cy="827.8" r="1.8"/>
</g>
<text class="st" x="619.8" y="655.8" font-size="14" font-weight="bold" letter-spacing="1.7">***</text>
<text class="st" x="693.7" y="666.8" font-size="7.6" font-weight="bold" letter-spacing="2.05">***</text>
<text class="st" x="667.9" y="681.0" font-size="7.6" font-weight="bold" letter-spacing="2.05">***</text>
<text class="st" x="634.9" y="719.8" font-size="7.6" font-weight="bold" letter-spacing="2.05">***</text>
<text class="st" x="724.0" y="725.4" font-size="7.6" font-weight="bold" letter-spacing="2.05">***</text>
<text class="st" x="701.1" y="745.0" font-size="7.6" font-weight="bold" letter-spacing="2.05">***</text>
</g>
<g id="chart-F">
<rect x="850.05" y="751.38" width="19.82" height="71.57" fill="#5b9bd5"/>
<rect x="876.31" y="764.88" width="19.82" height="58.07" fill="#ecb27c"/>
<rect x="912.97" y="778.88" width="19.82" height="44.07" fill="#5b9bd5"/>
<rect x="939.23" y="786.06" width="19.82" height="36.89" fill="#ecb27c"/>
<rect x="976.01" y="804.89" width="19.82" height="18.06" fill="#5b9bd5"/>
<rect x="1002.14" y="816.03" width="19.82" height="6.92" fill="#ecb27c"/>
<path d="M843.90,654.30V857.40M843.00,856.50H1028.00M843.90,822.95H1028.00M836.30,655.20H843.90M836.30,688.75H843.90M836.30,722.30H843.90M836.30,755.85H843.90M836.30,789.40H843.90M836.30,822.95H843.90M836.30,856.50H843.90M872.50,856.50V865.00M935.70,856.50V865.00M998.50,856.50V865.00" fill="none" stroke="#000" stroke-width="1.9"/>
<g class="tk" text-anchor="end">
<text transform="translate(834.10,660.35) scale(0.96,1.02)">25</text>
<text transform="translate(834.10,693.90) scale(0.96,1.02)">20</text>
<text transform="translate(834.10,727.45) scale(0.96,1.02)">15</text>
<text transform="translate(834.10,761.00) scale(0.96,1.02)">10</text>
<text transform="translate(834.10,794.55) scale(0.96,1.02)">5</text>
<text transform="translate(834.10,828.10) scale(0.96,1.02)">0</text>
<text transform="translate(834.10,861.65) scale(0.96,1.02)">-5</text>
<text class="xl" transform="translate(872.28,884.51) scale(1.01,1.125) rotate(-45)">Induction</text>
<text class="xl" transform="translate(937.20,883.50) scale(1.01,1.125) rotate(-45)">Maintenance</text>
<text class="xl" transform="translate(1002.52,879.79) scale(1.01,1.125) rotate(-45)">Before extubation</text>
</g>
<text class="yl" text-anchor="middle" transform="translate(808.30,756.60) scale(1.0,1.172) rotate(-90)">Theta(dB)</text>
<path d="M851.5,676.5L851.5,667.5L881.5,667.5L881.5,676.5M885.5,685.5L885.5,664.5L1012.5,664.5L1012.5,727.5M859.5,725.5L859.5,688.5L985.5,688.5L985.5,721.5M885.5,719.5L885.5,702.5L945.5,702.5L945.5,744.5M859.5,729.5L919.5,729.5L919.5,758.5M952.5,755.5L952.5,736.5L1012.5,736.5L1012.5,779.5M926.5,803.5L926.5,754.5L985.5,754.5L985.5,769.5" fill="none" stroke="#6a6a6a" stroke-width="1"/>
<path d="M860.0,730.0V774.5M856.2,730.0H863.7M886.2,751.0V778.3M881.6,751.0H890.9M922.8,765.9V791.9M918.1,765.9H927.4M949.1,771.4V799.3M944.2,771.4H954.1M985.7,789.2V822.8M980.8,789.2H990.5M1012.1,800.3V834.0M1007.2,800.3H1016.9" fill="none" stroke="#000" stroke-width="1.3"/>
<g fill="#000" stroke="#000" stroke-width="1.3">
<circle cx="860.0" cy="727.2" r="1.2"/>
<circle cx="856.9" cy="730.3" r="1.2"/>
<circle cx="863.1" cy="728.5" r="1.2"/>
<circle cx="860.0" cy="731.6" r="1.2"/>
<circle cx="857.5" cy="733.4" r="1.2"/>
<circle cx="862.4" cy="733.4" r="1.2"/>
<circle cx="860.0" cy="735.3" r="1.2"/>
<circle cx="860.0" cy="741.1" r="1.2"/>
<circle cx="860.0" cy="748.3" r="1.2"/>
<circle cx="863.3" cy="747.9" r="1.2"/>
<circle cx="863.7" cy="756.6" r="1.2"/>
<circle cx="860.0" cy="757.8" r="1.2"/>
<circle cx="855.6" cy="761.5" r="1.2"/>
<circle cx="860.0" cy="762.2" r="1.2"/>
<circle cx="860.0" cy="767.7" r="1.2"/>
<circle cx="860.0" cy="771.8" r="1.2"/>
<circle cx="863.7" cy="772.7" r="1.2"/>
<circle cx="860.0" cy="773.9" r="1.2"/>
<circle cx="859.7" cy="783.2" r="1.2"/>
<circle cx="886.2" cy="738.0" r="1.2"/>
<circle cx="886.2" cy="740.9" r="1.2"/>
<circle cx="888.1" cy="747.9" r="1.2"/>
<circle cx="883.5" cy="751.0" r="1.2"/>
<circle cx="886.2" cy="751.6" r="1.2"/>
<circle cx="889.1" cy="751.0" r="1.2"/>
<circle cx="884.7" cy="754.7" r="1.2"/>
<circle cx="887.8" cy="754.7" r="1.2"/>
<circle cx="886.2" cy="758.4" r="1.2"/>
<circle cx="884.7" cy="764.0" r="1.2"/>
<circle cx="887.8" cy="764.0" r="1.2"/>
<circle cx="880.4" cy="768.3" r="1.2"/>
<circle cx="883.5" cy="768.6" r="1.2"/>
<circle cx="889.1" cy="768.6" r="1.2"/>
<circle cx="891.9" cy="769.0" r="1.2"/>
<circle cx="886.2" cy="770.2" r="1.2"/>
<circle cx="884.7" cy="772.7" r="1.2"/>
<circle cx="887.8" cy="772.1" r="1.2"/>
<circle cx="884.7" cy="777.6" r="1.2"/>
<circle cx="887.8" cy="777.6" r="1.2"/>
<circle cx="886.2" cy="783.0" r="1.2"/>
<circle cx="886.2" cy="796.2" r="1.2"/>
<circle cx="922.8" cy="758.7" r="1.2"/>
<circle cx="919.0" cy="764.9" r="1.2"/>
<circle cx="922.8" cy="765.3" r="1.2"/>
<circle cx="926.5" cy="764.9" r="1.2"/>
<circle cx="920.9" cy="768.3" r="1.2"/>
<circle cx="924.6" cy="768.3" r="1.2"/>
<circle cx="919.0" cy="775.2" r="1.2"/>
<circle cx="922.8" cy="774.5" r="1.2"/>
<circle cx="926.5" cy="774.5" r="1.2"/>
<circle cx="922.8" cy="778.3" r="1.2"/>
<circle cx="922.8" cy="785.7" r="1.2"/>
<circle cx="926.5" cy="785.7" r="1.2"/>
<circle cx="919.0" cy="787.9" r="1.2"/>
<circle cx="926.5" cy="788.2" r="1.2"/>
<circle cx="920.9" cy="792.5" r="1.2"/>
<circle cx="924.6" cy="792.5" r="1.2"/>
<circle cx="922.8" cy="794.4" r="1.2"/>
<circle cx="922.8" cy="803.3" r="1.2"/>
<circle cx="951.0" cy="761.5" r="1.2"/>
<circle cx="947.3" cy="764.4" r="1.2"/>
<circle cx="951.0" cy="764.6" r="1.2"/>
<circle cx="947.3" cy="767.7" r="1.2"/>
<circle cx="951.0" cy="767.7" r="1.2"/>
<circle cx="949.1" cy="777.0" r="1.2"/>
<circle cx="947.3" cy="782.0" r="1.2"/>
<circle cx="951.0" cy="782.0" r="1.2"/>
<circle cx="949.1" cy="785.1" r="1.2"/>
<circle cx="951.0" cy="786.3" r="1.2"/>
<circle cx="943.6" cy="791.9" r="1.2"/>
<circle cx="947.3" cy="792.5" r="1.2"/>
<circle cx="951.0" cy="791.9" r="1.2"/>
<circle cx="954.5" cy="791.3" r="1.2"/>
<circle cx="947.3" cy="796.2" r="1.2"/>
<circle cx="951.0" cy="796.2" r="1.2"/>
<circle cx="949.1" cy="798.1" r="1.2"/>
<circle cx="949.1" cy="801.8" r="1.2"/>
<circle cx="947.3" cy="811.7" r="1.2"/>
<circle cx="951.0" cy="811.5" r="1.2"/>
<circle cx="985.7" cy="771.7" r="1.2"/>
<circle cx="983.8" cy="782.0" r="1.2"/>
<circle cx="987.5" cy="781.0" r="1.2"/>
<circle cx="985.7" cy="785.7" r="1.2"/>
<circle cx="985.7" cy="793.1" r="1.2"/>
<circle cx="983.8" cy="796.6" r="1.2"/>
<circle cx="987.5" cy="796.6" r="1.2"/>
<circle cx="985.7" cy="802.4" r="1.2"/>
<circle cx="983.8" cy="804.3" r="1.2"/>
<circle cx="987.5" cy="803.3" r="1.2"/>
<circle cx="985.7" cy="806.7" r="1.2"/>
<circle cx="980.1" cy="809.8" r="1.2"/>
<circle cx="983.8" cy="810.5" r="1.2"/>
<circle cx="987.5" cy="810.5" r="1.2"/>
<circle cx="985.7" cy="813.2" r="1.2"/>
<circle cx="983.8" cy="813.9" r="1.2"/>
<circle cx="987.5" cy="813.9" r="1.2"/>
<circle cx="983.8" cy="822.8" r="1.2"/>
<circle cx="987.5" cy="824.1" r="1.2"/>
<circle cx="985.7" cy="831.8" r="1.2"/>
<circle cx="1012.1" cy="781.1" r="1.2"/>
<circle cx="1012.1" cy="797.2" r="1.2"/>
<circle cx="1006.7" cy="803.6" r="1.2"/>
<circle cx="1017.6" cy="803.6" r="1.2"/>
<circle cx="1012.1" cy="805.5" r="1.2"/>
<circle cx="1006.7" cy="810.5" r="1.2"/>
<circle cx="1012.1" cy="811.7" r="1.2"/>
<circle cx="1006.7" cy="813.6" r="1.2"/>
<circle cx="1017.6" cy="813.6" r="1.2"/>
<circle cx="1009.8" cy="815.4" r="1.2"/>
<circle cx="1014.2" cy="815.4" r="1.2"/>
<circle cx="1006.7" cy="820.1" r="1.2"/>
<circle cx="1017.6" cy="819.7" r="1.2"/>
<circle cx="1009.8" cy="821.0" r="1.2"/>
<circle cx="1014.2" cy="821.0" r="1.2"/>
<circle cx="1012.1" cy="824.1" r="1.2"/>
<circle cx="1012.1" cy="827.8" r="1.2"/>
<circle cx="1012.1" cy="834.0" r="1.2"/>
<circle cx="1012.1" cy="838.0" r="1.2"/>
<circle cx="1012.1" cy="842.4" r="1.2"/>
</g>
<text class="st sr" x="866.2" y="663.5" font-size="16" font-weight="normal" letter-spacing="0">*</text>
<text class="st" x="949.3" y="662.9" font-size="7.6" font-weight="bold" letter-spacing="2.05">***</text>
<text class="st" x="922.9" y="686.2" font-size="7.6" font-weight="bold" letter-spacing="2.05">***</text>
<text class="st" x="916.1" y="700.7" font-size="7.6" font-weight="bold" letter-spacing="2.05">***</text>
<text class="st" x="889.7" y="727.5" font-size="7.6" font-weight="bold" letter-spacing="2.05">***</text>
<text class="st" x="982.6" y="734.1" font-size="7.6" font-weight="bold" letter-spacing="2.05">***</text>
<text class="st" x="956.4" y="751.9" font-size="7.6" font-weight="bold" letter-spacing="2.05">***</text>
</g>
<g id="chart-G">
<rect x="1096.05" y="734.64" width="20.06" height="20.01" fill="#5b9bd5"/>
<rect x="1122.31" y="734.64" width="20.19" height="6.76" fill="#ecb27c"/>
<rect x="1159.22" y="734.64" width="19.82" height="28.43" fill="#5b9bd5"/>
<rect x="1185.84" y="734.64" width="19.57" height="16.66" fill="#ecb27c"/>
<rect x="1222.38" y="734.64" width="19.45" height="14.81" fill="#5b9bd5"/>
<rect x="1248.39" y="734.64" width="19.82" height="13.81" fill="#ecb27c"/>
<path d="M1089.90,654.10V855.00M1089.00,854.10H1275.00M1089.90,734.64H1275.00M1082.30,655.00H1089.90M1082.30,694.82H1089.90M1082.30,734.64H1089.90M1082.30,774.46H1089.90M1082.30,814.28H1089.90M1082.30,854.10H1089.90M1119.20,854.10V862.60M1182.10,854.10V862.60M1244.90,854.10V862.60" fill="none" stroke="#000" stroke-width="1.9"/>
<g class="tk" text-anchor="end">
<text transform="translate(1080.10,660.15) scale(0.96,1.02)">10</text>
<text transform="translate(1080.10,699.97) scale(0.96,1.02)">5</text>
<text transform="translate(1080.10,739.79) scale(0.96,1.02)">0</text>
<text transform="translate(1080.10,779.61) scale(0.96,1.02)">-5</text>
<text transform="translate(1080.10,819.43) scale(0.96,1.02)">-10</text>
<text transform="translate(1080.10,859.25) scale(0.96,1.02)">-15</text>
<text class="xl" transform="translate(1118.98,881.24) scale(1.01,1.09) rotate(-45)">Induction</text>
<text class="xl" transform="translate(1183.60,880.26) scale(1.01,1.09) rotate(-45)">Maintenance</text>
<text class="xl" transform="translate(1248.93,876.66) scale(1.01,1.09) rotate(-45)">Before extubation</text>
</g>
<text class="yl" text-anchor="middle" transform="translate(1049.40,754.30) scale(1.0,1.147) rotate(-90)">Gamma(dB)</text>
<path d="M1172.5,793.5L1172.5,810.5L1235.5,810.5L1235.5,789.5" fill="none" stroke="#6a6a6a" stroke-width="1"/>
<path d="M1106.2,740.4V778.2M1101.5,740.4H1110.9M1101.5,778.2H1110.9M1132.3,715.9V767.9M1127.9,715.9H1136.8M1127.9,767.9H1136.8M1168.9,742.9V784.4M1164.2,742.9H1173.6M1164.2,784.4H1173.6M1195.4,729.5V774.1M1190.6,729.5H1200.2M1190.6,774.1H1200.2M1231.9,722.7V777.8M1227.1,722.7H1236.7M1227.1,777.8H1236.7M1258.3,720.2V777.3M1253.6,720.2H1263.0M1253.6,777.3H1263.0" fill="none" stroke="#000" stroke-width="1.7"/>
<g fill="none" stroke="#000" stroke-width="1.7">
<circle cx="1106.2" cy="724.3" r="2.0"/>
<circle cx="1102.0" cy="739.2" r="2.0"/>
<circle cx="1114.4" cy="737.3" r="2.0"/>
<circle cx="1103.9" cy="749.1" r="2.0"/>
<circle cx="1108.1" cy="747.8" r="2.0"/>
<circle cx="1097.9" cy="755.9" r="2.0"/>
<circle cx="1102.0" cy="758.0" r="2.0"/>
<circle cx="1110.3" cy="758.0" r="2.0"/>
<circle cx="1114.4" cy="757.1" r="2.0"/>
<circle cx="1106.2" cy="757.7" r="2.0"/>
<circle cx="1110.3" cy="766.4" r="2.0"/>
<circle cx="1102.0" cy="768.9" r="2.0"/>
<circle cx="1110.3" cy="781.9" r="2.0"/>
<circle cx="1106.2" cy="785.2" r="2.0"/>
<circle cx="1110.3" cy="787.1" r="2.0"/>
<circle cx="1102.0" cy="789.9" r="2.0"/>
<circle cx="1132.3" cy="686.5" r="2.0"/>
<circle cx="1132.3" cy="701.1" r="2.0"/>
<circle cx="1136.3" cy="712.8" r="2.0"/>
<circle cx="1128.0" cy="714.8" r="2.0"/>
<circle cx="1124.2" cy="734.2" r="2.0"/>
<circle cx="1124.2" cy="746.3" r="2.0"/>
<circle cx="1140.9" cy="746.0" r="2.0"/>
<circle cx="1124.2" cy="754.3" r="2.0"/>
<circle cx="1140.9" cy="755.0" r="2.0"/>
<circle cx="1128.0" cy="767.7" r="2.0"/>
<circle cx="1136.3" cy="767.7" r="2.0"/>
<circle cx="1132.3" cy="772.4" r="2.0"/>
<circle cx="1132.3" cy="776.6" r="2.0"/>
<circle cx="1132.3" cy="786.8" r="2.0"/>
<circle cx="1168.9" cy="722.1" r="2.0"/>
<circle cx="1168.9" cy="730.9" r="2.0"/>
<circle cx="1168.9" cy="739.8" r="2.0"/>
<circle cx="1160.8" cy="747.2" r="2.0"/>
<circle cx="1166.3" cy="750.9" r="2.0"/>
<circle cx="1171.8" cy="749.9" r="2.0"/>
<circle cx="1166.3" cy="754.3" r="2.0"/>
<circle cx="1160.8" cy="757.5" r="2.0"/>
<circle cx="1166.3" cy="757.5" r="2.0"/>
<circle cx="1171.8" cy="756.3" r="2.0"/>
<circle cx="1177.4" cy="757.5" r="2.0"/>
<circle cx="1166.3" cy="761.2" r="2.0"/>
<circle cx="1171.8" cy="760.0" r="2.0"/>
<circle cx="1166.3" cy="767.7" r="2.0"/>
<circle cx="1160.8" cy="769.5" r="2.0"/>
<circle cx="1166.3" cy="772.9" r="2.0"/>
<circle cx="1171.8" cy="773.6" r="2.0"/>
<circle cx="1163.6" cy="788.1" r="2.0"/>
<circle cx="1168.9" cy="786.8" r="2.0"/>
<circle cx="1174.3" cy="788.7" r="2.0"/>
<circle cx="1168.9" cy="793.7" r="2.0"/>
<circle cx="1168.9" cy="798.6" r="2.0"/>
<circle cx="1195.4" cy="700.2" r="2.0"/>
<circle cx="1195.4" cy="721.8" r="2.0"/>
<circle cx="1195.4" cy="727.8" r="2.0"/>
<circle cx="1187.1" cy="736.3" r="2.0"/>
<circle cx="1192.7" cy="736.9" r="2.0"/>
<circle cx="1203.8" cy="736.1" r="2.0"/>
<circle cx="1198.2" cy="740.7" r="2.0"/>
<circle cx="1198.2" cy="746.8" r="2.0"/>
<circle cx="1187.1" cy="749.7" r="2.0"/>
<circle cx="1192.7" cy="753.7" r="2.0"/>
<circle cx="1198.2" cy="753.0" r="2.0"/>
<circle cx="1187.1" cy="755.9" r="2.0"/>
<circle cx="1198.2" cy="760.2" r="2.0"/>
<circle cx="1192.7" cy="761.7" r="2.0"/>
<circle cx="1187.1" cy="769.1" r="2.0"/>
<circle cx="1198.2" cy="768.9" r="2.0"/>
<circle cx="1203.8" cy="768.3" r="2.0"/>
<circle cx="1192.7" cy="772.6" r="2.0"/>
<circle cx="1195.4" cy="785.2" r="2.0"/>
<circle cx="1195.4" cy="792.2" r="2.0"/>
<circle cx="1231.9" cy="707.3" r="2.0"/>
<circle cx="1223.9" cy="714.0" r="2.0"/>
<circle cx="1231.9" cy="712.8" r="2.0"/>
<circle cx="1231.9" cy="717.1" r="2.0"/>
<circle cx="1228.0" cy="740.0" r="2.0"/>
<circle cx="1236.0" cy="738.9" r="2.0"/>
<circle cx="1240.3" cy="751.2" r="2.0"/>
<circle cx="1223.9" cy="754.9" r="2.0"/>
<circle cx="1240.3" cy="757.1" r="2.0"/>
<circle cx="1223.9" cy="759.6" r="2.0"/>
<circle cx="1223.9" cy="766.7" r="2.0"/>
<circle cx="1231.9" cy="783.5" r="2.0"/>
<circle cx="1231.9" cy="799.0" r="2.0"/>
<circle cx="1231.9" cy="803.9" r="2.0"/>
<circle cx="1258.3" cy="696.2" r="2.0"/>
<circle cx="1258.3" cy="706.6" r="2.0"/>
<circle cx="1250.0" cy="722.8" r="2.0"/>
<circle cx="1266.6" cy="721.8" r="2.0"/>
<circle cx="1254.2" cy="730.9" r="2.0"/>
<circle cx="1262.4" cy="730.9" r="2.0"/>
<circle cx="1266.6" cy="746.2" r="2.0"/>
<circle cx="1250.0" cy="758.4" r="2.0"/>
<circle cx="1266.6" cy="757.7" r="2.0"/>
<circle cx="1250.0" cy="763.9" r="2.0"/>
<circle cx="1266.6" cy="762.5" r="2.0"/>
<circle cx="1258.3" cy="781.6" r="2.0"/>
<circle cx="1258.3" cy="792.7" r="2.0"/>
<circle cx="1258.3" cy="811.4" r="2.0"/>
</g>
<g fill="#000">
<circle cx="1106.2" cy="741.0" r="2.75"/>
<circle cx="1110.3" cy="741.6" r="2.75"/>
<circle cx="1106.2" cy="770.4" r="2.75"/>
<circle cx="1106.2" cy="776.9" r="2.75"/>
<circle cx="1132.3" cy="718.7" r="2.75"/>
<circle cx="1132.3" cy="726.5" r="2.75"/>
<circle cx="1132.3" cy="731.7" r="2.75"/>
<circle cx="1132.3" cy="736.7" r="2.75"/>
<circle cx="1132.3" cy="749.1" r="2.75"/>
<circle cx="1132.3" cy="757.1" r="2.75"/>
<circle cx="1231.9" cy="725.5" r="2.75"/>
<circle cx="1231.9" cy="730.5" r="2.75"/>
<circle cx="1231.9" cy="752.8" r="2.75"/>
<circle cx="1231.9" cy="757.7" r="2.75"/>
<circle cx="1231.9" cy="762.7" r="2.75"/>
<circle cx="1231.9" cy="768.3" r="2.75"/>
<circle cx="1258.3" cy="726.2" r="2.75"/>
<circle cx="1258.3" cy="739.2" r="2.75"/>
<circle cx="1258.3" cy="750.3" r="2.75"/>
<circle cx="1258.3" cy="754.6" r="2.75"/>
<circle cx="1258.3" cy="760.2" r="2.75"/>
<circle cx="1258.3" cy="768.3" r="2.75"/>
</g>
<text class="st sr" x="1201.9" y="829.9" font-size="16" font-weight="normal" letter-spacing="0">**</text>
</g>
<g id="chart-H">
<rect x="1351.05" y="730.30" width="18.95" height="124.60" fill="#5b9bd5"/>
<rect x="1377.31" y="753.83" width="19.82" height="101.07" fill="#ecb27c"/>
<rect x="1413.84" y="751.97" width="19.57" height="102.93" fill="#5b9bd5"/>
<rect x="1440.23" y="756.93" width="19.57" height="97.97" fill="#ecb27c"/>
<rect x="1476.76" y="784.18" width="19.57" height="70.72" fill="#5b9bd5"/>
<rect x="1503.02" y="788.51" width="19.57" height="66.39" fill="#ecb27c"/>
<path d="M1344.60,648.40V855.80M1343.70,854.90H1530.50M1337.00,649.30H1344.60M1337.00,700.70H1344.60M1337.00,752.10H1344.60M1337.00,803.50H1344.60M1337.00,854.90H1344.60M1373.60,854.90V863.40M1436.60,854.90V863.40M1499.70,854.90V863.40" fill="none" stroke="#000" stroke-width="1.9"/>
<g class="tk" text-anchor="end">
<text transform="translate(1334.80,654.45) scale(0.96,1.02)">40</text>
<text transform="translate(1334.80,705.85) scale(0.96,1.02)">30</text>
<text transform="translate(1334.80,757.25) scale(0.96,1.02)">20</text>
<text transform="translate(1334.80,808.65) scale(0.96,1.02)">10</text>
<text transform="translate(1334.80,860.05) scale(0.96,1.02)">0</text>
<text class="xl" transform="translate(1373.20,885.70) scale(1.118,1.237) rotate(-45)">Induction</text>
<text class="xl" transform="translate(1438.10,884.59) scale(1.118,1.237) rotate(-45)">Maintenance</text>
<text class="xl" transform="translate(1504.00,880.51) scale(1.118,1.237) rotate(-45)">Before extubation</text>
</g>
<text class="yl" text-anchor="middle" transform="translate(1309.60,751.80) scale(1.036,1.209) rotate(-90)">Total Power(dB)</text>
<path d="M1365.5,670.5L1365.5,661.5L1386.5,661.5L1386.5,670.5M1386.5,656.5L1386.5,648.5L1512.5,648.5L1512.5,679.5M1360.5,695.5L1360.5,677.5L1486.5,677.5L1486.5,707.5M1360.5,707.5L1360.5,704.5L1419.5,704.5L1419.5,740.5M1449.5,716.5L1449.5,712.5L1512.5,712.5L1512.5,769.5M1427.5,732.5L1427.5,725.5L1486.5,725.5L1486.5,761.5" fill="none" stroke="#6a6a6a" stroke-width="1"/>
<path d="M1359.1,717.3V730.3M1355.4,717.3H1362.8M1387.0,740.6V753.8M1382.0,740.6H1391.9M1423.5,742.7V752.0M1419.2,742.7H1427.8M1449.9,744.5V756.9M1445.6,744.5H1454.2M1486.4,773.0V784.2M1482.1,773.0H1490.8M1512.9,776.7V788.5M1508.6,776.7H1517.3" fill="none" stroke="#000" stroke-width="1.5"/>
<g fill="none" stroke="#000" stroke-width="1.6">
<circle cx="1359.1" cy="708.9" r="1.8"/>
<circle cx="1362.6" cy="711.3" r="1.8"/>
<circle cx="1359.1" cy="714.8" r="1.8"/>
<circle cx="1359.1" cy="718.5" r="1.8"/>
<circle cx="1362.6" cy="718.8" r="1.8"/>
<circle cx="1355.6" cy="722.2" r="1.8"/>
<circle cx="1359.1" cy="722.5" r="1.8"/>
<circle cx="1362.6" cy="725.3" r="1.8"/>
<circle cx="1352.3" cy="728.7" r="1.8"/>
<circle cx="1359.1" cy="727.2" r="1.8"/>
<circle cx="1365.3" cy="728.7" r="1.8"/>
<circle cx="1369.0" cy="727.4" r="1.8"/>
<circle cx="1355.6" cy="730.9" r="1.8"/>
<circle cx="1362.2" cy="730.9" r="1.8"/>
<circle cx="1359.1" cy="732.8" r="1.8"/>
<circle cx="1355.6" cy="734.9" r="1.8"/>
<circle cx="1362.2" cy="735.9" r="1.8"/>
<circle cx="1359.1" cy="737.7" r="1.8"/>
<circle cx="1359.1" cy="741.4" r="1.8"/>
<circle cx="1362.6" cy="741.4" r="1.8"/>
<circle cx="1360.3" cy="747.3" r="1.8"/>
<circle cx="1360.3" cy="763.4" r="1.8"/>
<circle cx="1387.0" cy="729.4" r="1.8"/>
<circle cx="1390.9" cy="734.0" r="1.8"/>
<circle cx="1382.9" cy="736.5" r="1.8"/>
<circle cx="1387.0" cy="735.9" r="1.8"/>
<circle cx="1387.0" cy="741.4" r="1.8"/>
<circle cx="1390.9" cy="745.2" r="1.8"/>
<circle cx="1382.9" cy="748.5" r="1.8"/>
<circle cx="1387.0" cy="749.5" r="1.8"/>
<circle cx="1390.9" cy="751.4" r="1.8"/>
<circle cx="1382.9" cy="756.6" r="1.8"/>
<circle cx="1387.0" cy="755.9" r="1.8"/>
<circle cx="1378.7" cy="759.2" r="1.8"/>
<circle cx="1387.0" cy="761.3" r="1.8"/>
<circle cx="1390.9" cy="759.4" r="1.8"/>
<circle cx="1395.0" cy="759.2" r="1.8"/>
<circle cx="1382.9" cy="765.8" r="1.8"/>
<circle cx="1387.0" cy="765.0" r="1.8"/>
<circle cx="1390.9" cy="766.2" r="1.8"/>
<circle cx="1388.8" cy="773.4" r="1.8"/>
<circle cx="1384.7" cy="775.9" r="1.8"/>
<circle cx="1423.5" cy="732.2" r="1.8"/>
<circle cx="1423.5" cy="738.0" r="1.8"/>
<circle cx="1419.2" cy="742.7" r="1.8"/>
<circle cx="1415.5" cy="745.8" r="1.8"/>
<circle cx="1423.5" cy="744.8" r="1.8"/>
<circle cx="1431.9" cy="745.5" r="1.8"/>
<circle cx="1419.2" cy="748.5" r="1.8"/>
<circle cx="1427.6" cy="748.5" r="1.8"/>
<circle cx="1415.5" cy="750.7" r="1.8"/>
<circle cx="1431.9" cy="750.7" r="1.8"/>
<circle cx="1423.5" cy="751.4" r="1.8"/>
<circle cx="1419.2" cy="754.7" r="1.8"/>
<circle cx="1427.6" cy="753.0" r="1.8"/>
<circle cx="1431.9" cy="754.5" r="1.8"/>
<circle cx="1415.5" cy="757.5" r="1.8"/>
<circle cx="1427.6" cy="756.9" r="1.8"/>
<circle cx="1423.5" cy="762.9" r="1.8"/>
<circle cx="1419.2" cy="765.8" r="1.8"/>
<circle cx="1427.6" cy="766.6" r="1.8"/>
<circle cx="1431.9" cy="765.6" r="1.8"/>
<circle cx="1419.2" cy="770.3" r="1.8"/>
<circle cx="1449.9" cy="731.5" r="1.8"/>
<circle cx="1447.7" cy="738.6" r="1.8"/>
<circle cx="1452.0" cy="738.3" r="1.8"/>
<circle cx="1445.6" cy="743.1" r="1.8"/>
<circle cx="1449.9" cy="742.7" r="1.8"/>
<circle cx="1453.8" cy="746.0" r="1.8"/>
<circle cx="1449.9" cy="748.5" r="1.8"/>
<circle cx="1449.9" cy="751.4" r="1.8"/>
<circle cx="1449.9" cy="754.5" r="1.8"/>
<circle cx="1441.8" cy="756.3" r="1.8"/>
<circle cx="1445.8" cy="755.9" r="1.8"/>
<circle cx="1454.2" cy="755.7" r="1.8"/>
<circle cx="1458.2" cy="755.4" r="1.8"/>
<circle cx="1445.8" cy="759.4" r="1.8"/>
<circle cx="1449.9" cy="760.4" r="1.8"/>
<circle cx="1454.2" cy="760.0" r="1.8"/>
<circle cx="1458.2" cy="760.6" r="1.8"/>
<circle cx="1441.8" cy="762.9" r="1.8"/>
<circle cx="1449.9" cy="765.6" r="1.8"/>
<circle cx="1445.8" cy="771.8" r="1.8"/>
<circle cx="1449.9" cy="769.9" r="1.8"/>
<circle cx="1454.1" cy="771.2" r="1.8"/>
<circle cx="1482.3" cy="763.5" r="1.8"/>
<circle cx="1486.4" cy="766.6" r="1.8"/>
<circle cx="1490.6" cy="769.7" r="1.8"/>
<circle cx="1486.4" cy="772.8" r="1.8"/>
<circle cx="1490.6" cy="776.7" r="1.8"/>
<circle cx="1482.3" cy="779.6" r="1.8"/>
<circle cx="1486.4" cy="778.6" r="1.8"/>
<circle cx="1478.2" cy="782.7" r="1.8"/>
<circle cx="1482.3" cy="783.6" r="1.8"/>
<circle cx="1490.6" cy="781.1" r="1.8"/>
<circle cx="1486.4" cy="784.8" r="1.8"/>
<circle cx="1495.1" cy="785.2" r="1.8"/>
<circle cx="1482.3" cy="788.8" r="1.8"/>
<circle cx="1490.6" cy="790.4" r="1.8"/>
<circle cx="1495.1" cy="790.1" r="1.8"/>
<circle cx="1486.4" cy="792.2" r="1.8"/>
<circle cx="1482.3" cy="793.5" r="1.8"/>
<circle cx="1490.6" cy="795.6" r="1.8"/>
<circle cx="1486.4" cy="799.0" r="1.8"/>
<circle cx="1486.4" cy="806.1" r="1.8"/>
<circle cx="1512.9" cy="772.4" r="1.8"/>
<circle cx="1517.0" cy="773.3" r="1.8"/>
<circle cx="1508.7" cy="774.5" r="1.8"/>
<circle cx="1512.9" cy="776.7" r="1.8"/>
<circle cx="1504.6" cy="778.6" r="1.8"/>
<circle cx="1508.7" cy="783.6" r="1.8"/>
<circle cx="1517.0" cy="783.9" r="1.8"/>
<circle cx="1521.1" cy="783.2" r="1.8"/>
<circle cx="1504.6" cy="784.4" r="1.8"/>
<circle cx="1512.9" cy="781.7" r="1.8"/>
<circle cx="1508.7" cy="789.4" r="1.8"/>
<circle cx="1517.0" cy="790.6" r="1.8"/>
<circle cx="1504.6" cy="793.5" r="1.8"/>
<circle cx="1512.9" cy="794.1" r="1.8"/>
<circle cx="1521.1" cy="795.6" r="1.8"/>
<circle cx="1508.7" cy="797.2" r="1.8"/>
<circle cx="1517.0" cy="796.6" r="1.8"/>
<circle cx="1512.9" cy="799.0" r="1.8"/>
<circle cx="1512.9" cy="804.0" r="1.8"/>
<circle cx="1512.9" cy="810.2" r="1.8"/>
</g>
<text class="st" x="1377.1" y="656.4" font-size="10.8" font-weight="bold" letter-spacing="2.1">***</text>
<text class="st" x="1450.3" y="646.7" font-size="7.6" font-weight="bold" letter-spacing="2.05">***</text>
<text class="st" x="1423.9" y="675.5" font-size="7.6" font-weight="bold" letter-spacing="2.05">***</text>
<text class="st" x="1390.5" y="702.0" font-size="7.6" font-weight="bold" letter-spacing="2.05">***</text>
<text class="st" x="1481.5" y="710.6" font-size="7.6" font-weight="bold" letter-spacing="2.05">***</text>
<text class="st" x="1457.1" y="723.3" font-size="7.6" font-weight="bold" letter-spacing="2.05">***</text>
</g>
<rect x="81.1" y="637.4" width="19" height="8.8" fill="#5b9bd5"/>
<text class="lg" x="111.3" y="646.9">EP group</text>
<rect x="188" y="637.4" width="18.7" height="8.8" fill="#ecb27c"/>
<text class="lg" x="218.4" y="646.9">P <tspan dx="8.6">group</tspan></text>
</svg>
</body>
</html>
